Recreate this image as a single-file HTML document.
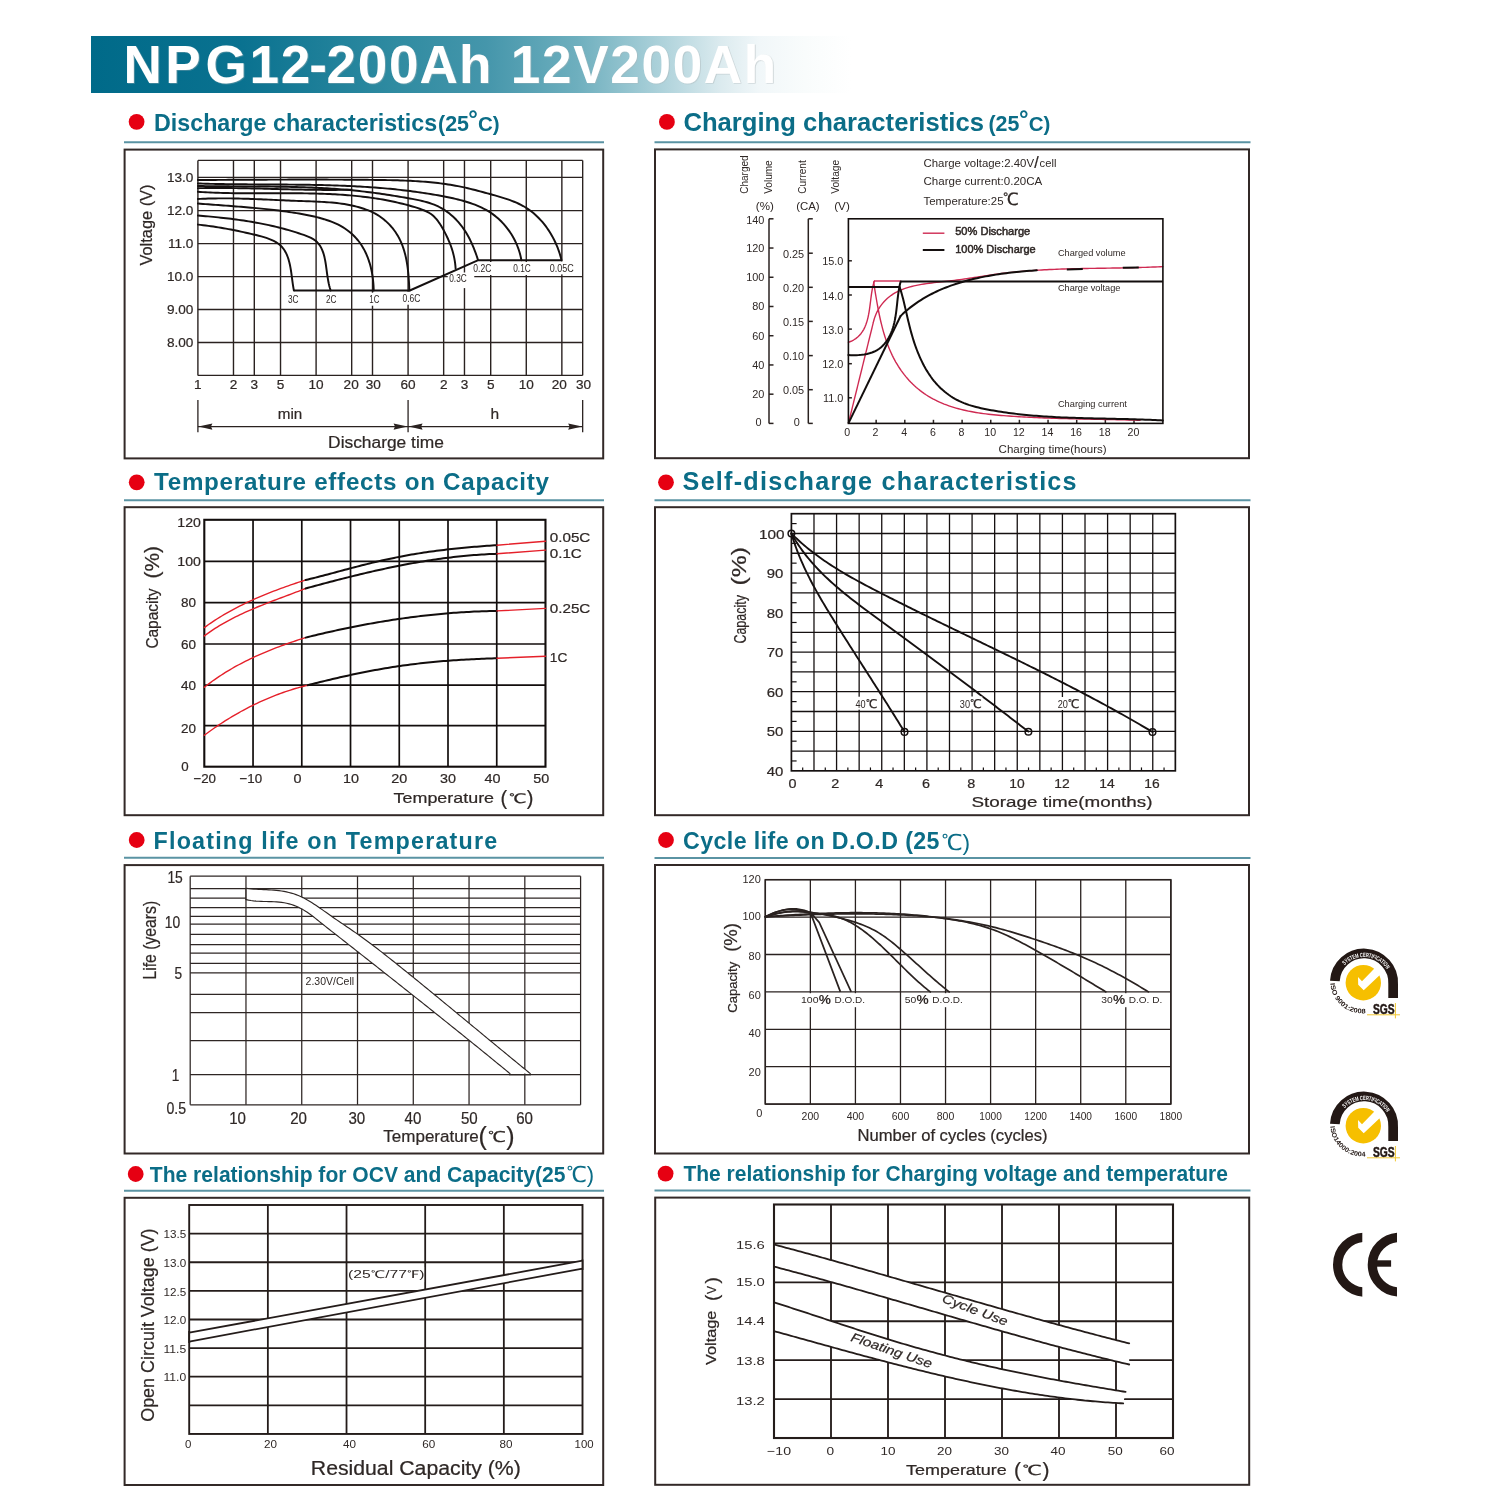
<!DOCTYPE html>
<html lang="en"><head><meta charset="utf-8"><title>NPG12-200Ah 12V200Ah</title>
<style>
html,body{margin:0;padding:0;background:#fff;}
body{width:1500px;height:1500px;overflow:hidden;font-family:'Liberation Sans',sans-serif;}
svg{display:block;}
text{white-space:pre;}
svg text.b{stroke:#2f2826;stroke-width:0.22px;}
svg text.bb{stroke:#2f2826;stroke-width:0.5px;}
</style></head><body>
<svg width="1500" height="1500" viewBox="0 0 1500 1500">
<defs>
<linearGradient id="bg" x1="0" y1="0" x2="1" y2="0">
<stop offset="0" stop-color="#006a89"/>
<stop offset="0.2" stop-color="#0a7290"/>
<stop offset="0.4" stop-color="#2f8ba1"/>
<stop offset="0.52" stop-color="#4596ab"/>
<stop offset="0.64" stop-color="#6eafbe"/>
<stop offset="0.76" stop-color="#b3d5dd"/>
<stop offset="0.83" stop-color="#dcebef"/>
<stop offset="0.88" stop-color="#f1f7f9"/>
<stop offset="0.94" stop-color="#f9fcfc"/>
<stop offset="1" stop-color="#ffffff"/>
</linearGradient>
<filter id="sh" x="-2%" y="-10%" width="104%" height="125%"><feDropShadow dx="0.8" dy="0.6" stdDeviation="0.25" flood-color="#aab4b7" flood-opacity="0.55"/></filter>
</defs>
<rect x="91" y="36" width="760" height="57" fill="url(#bg)"/>
<text x="123.6" y="82.8" font-size="53" fill="#ffffff" font-family="'Liberation Sans', sans-serif" font-weight="bold" letter-spacing="1.72" filter="url(#sh)">N<tspan dx="1.7">P</tspan><tspan dx="3">G</tspan><tspan dx="1.2">1</tspan>2<tspan dx="-2.8">-</tspan><tspan dx="-1.9">2</tspan>00<tspan dx="-0.6">A</tspan><tspan dx="-0.6">h</tspan><tspan dx="1.2"> </tspan>12V200Ah</text>
<circle cx="136.6" cy="121.8" r="7.9" fill="#e60012"/>
<text x="154" y="131.2" font-size="23.4" fill="#0b6d87" font-family="'Liberation Sans', sans-serif" font-weight="bold" textLength="283.2" lengthAdjust="spacingAndGlyphs">Discharge characteristics</text>
<text x="438" y="131.3" font-size="21.4" fill="#0b6d87" font-family="'Liberation Sans', sans-serif" font-weight="bold" textLength="31" lengthAdjust="spacingAndGlyphs">(25</text>
<text x="468.2" y="127.2" font-size="24" fill="#0b6d87" font-family="'Liberation Sans', sans-serif" font-weight="bold">°</text>
<text x="478" y="131.3" font-size="20.5" fill="#0b6d87" font-family="'Liberation Sans', sans-serif" font-weight="bold">C)</text>
<line x1="124" y1="142.2" x2="604" y2="142.2" stroke="#5a93a3" stroke-width="2" />
<circle cx="666.9" cy="121.9" r="7.9" fill="#e60012"/>
<text x="683.4" y="131" font-size="25" fill="#0b6d87" font-family="'Liberation Sans', sans-serif" font-weight="bold" textLength="300.5" lengthAdjust="spacingAndGlyphs">Charging characteristics</text>
<text x="988.4" y="131.3" font-size="21.4" fill="#0b6d87" font-family="'Liberation Sans', sans-serif" font-weight="bold">(25</text>
<text x="1018.9" y="127.2" font-size="24" fill="#0b6d87" font-family="'Liberation Sans', sans-serif" font-weight="bold">°</text>
<text x="1028.8" y="131.3" font-size="20.5" fill="#0b6d87" font-family="'Liberation Sans', sans-serif" font-weight="bold">C)</text>
<line x1="654.5" y1="142.2" x2="1250.5" y2="142.2" stroke="#5a93a3" stroke-width="2" />
<circle cx="136.7" cy="482.3" r="7.9" fill="#e60012"/>
<text x="154" y="490" font-size="24.2" fill="#0b6d87" font-family="'Liberation Sans', sans-serif" font-weight="bold" textLength="395" lengthAdjust="spacing">Temperature effects on Capacity</text>
<line x1="124" y1="500.3" x2="604" y2="500.3" stroke="#5a93a3" stroke-width="2" />
<circle cx="666" cy="482.3" r="7.9" fill="#e60012"/>
<text x="682.6" y="490" font-size="25.2" fill="#0b6d87" font-family="'Liberation Sans', sans-serif" font-weight="bold" textLength="394" lengthAdjust="spacing">Self-discharge characteristics</text>
<line x1="654.5" y1="500.3" x2="1250.5" y2="500.3" stroke="#5a93a3" stroke-width="2" />
<circle cx="136.7" cy="840" r="7.9" fill="#e60012"/>
<text x="153.6" y="849" font-size="23.3" fill="#0b6d87" font-family="'Liberation Sans', sans-serif" font-weight="bold" textLength="343.5" lengthAdjust="spacing">Floating life on Temperature</text>
<line x1="124" y1="857.7" x2="604" y2="857.7" stroke="#5a93a3" stroke-width="2" />
<circle cx="666" cy="840" r="7.9" fill="#e60012"/>
<text x="683" y="849.3" font-size="23.2" fill="#0b6d87" font-family="'Liberation Sans', sans-serif" font-weight="bold" textLength="256.5" lengthAdjust="spacing">Cycle life on D.O.D (25</text>
<text x="941.4" y="850" font-size="22" fill="#0b6d87" font-family="'Liberation Sans', 'WenQuanYi Zen Hei', 'Noto Sans CJK SC', sans-serif" textLength="28.6" lengthAdjust="spacingAndGlyphs">℃)</text>
<line x1="654.5" y1="857.9" x2="1250.5" y2="857.9" stroke="#5a93a3" stroke-width="2" />
<circle cx="135.7" cy="1174" r="7.9" fill="#e60012"/>
<text x="149.8" y="1181.7" font-size="21.2" fill="#0b6d87" font-family="'Liberation Sans', sans-serif" font-weight="bold" textLength="415.6" lengthAdjust="spacingAndGlyphs">The relationship for OCV and Capacity(25</text>
<text x="566.6" y="1182.4" font-size="22" fill="#0b6d87" font-family="'Liberation Sans', 'WenQuanYi Zen Hei', 'Noto Sans CJK SC', sans-serif" textLength="27.6" lengthAdjust="spacingAndGlyphs">℃)</text>
<line x1="124" y1="1190.7" x2="604" y2="1190.7" stroke="#5a93a3" stroke-width="2" />
<circle cx="665.6" cy="1173.6" r="7.9" fill="#e60012"/>
<text x="683.4" y="1181" font-size="21.6" fill="#0b6d87" font-family="'Liberation Sans', sans-serif" font-weight="bold" textLength="544.5" lengthAdjust="spacingAndGlyphs">The relationship for Charging voltage and temperature</text>
<line x1="654.5" y1="1190.5" x2="1250.5" y2="1190.5" stroke="#5a93a3" stroke-width="2" />
<rect x="124.6" y="149.6" width="478.6" height="308.8" fill="none" stroke="#322927" stroke-width="2"/>
<rect x="655" y="149.4" width="594" height="308.8" fill="none" stroke="#322927" stroke-width="2"/>
<rect x="124.6" y="507.2" width="478.6" height="308" fill="none" stroke="#322927" stroke-width="2"/>
<rect x="655" y="507.2" width="594" height="308" fill="none" stroke="#322927" stroke-width="2"/>
<rect x="124.6" y="865.1" width="478.6" height="288.4" fill="none" stroke="#322927" stroke-width="2"/>
<rect x="655" y="865" width="594" height="288.5" fill="none" stroke="#322927" stroke-width="2"/>
<rect x="124.6" y="1197.8" width="478.6" height="287.2" fill="none" stroke="#322927" stroke-width="2"/>
<rect x="655.2" y="1197.6" width="594" height="287.2" fill="none" stroke="#322927" stroke-width="2"/>
<g id="c1">
<line x1="197.9" y1="160.4" x2="197.9" y2="375.4" stroke="#2a2220" stroke-width="1.4" />
<line x1="233.48" y1="160.4" x2="233.48" y2="375.4" stroke="#2a2220" stroke-width="1.4" />
<line x1="254.3" y1="160.4" x2="254.3" y2="375.4" stroke="#2a2220" stroke-width="1.4" />
<line x1="280.52" y1="160.4" x2="280.52" y2="375.4" stroke="#2a2220" stroke-width="1.4" />
<line x1="316.1" y1="160.4" x2="316.1" y2="375.4" stroke="#2a2220" stroke-width="1.4" />
<line x1="351.68" y1="160.4" x2="351.68" y2="375.4" stroke="#2a2220" stroke-width="1.4" />
<line x1="372.5" y1="160.4" x2="372.5" y2="375.4" stroke="#2a2220" stroke-width="1.4" />
<line x1="408.08" y1="160.4" x2="408.08" y2="375.4" stroke="#2a2220" stroke-width="1.4" />
<line x1="443.66" y1="160.4" x2="443.66" y2="375.4" stroke="#2a2220" stroke-width="1.4" />
<line x1="464.47" y1="160.4" x2="464.47" y2="375.4" stroke="#2a2220" stroke-width="1.4" />
<line x1="490.7" y1="160.4" x2="490.7" y2="375.4" stroke="#2a2220" stroke-width="1.4" />
<line x1="526.28" y1="160.4" x2="526.28" y2="375.4" stroke="#2a2220" stroke-width="1.4" />
<line x1="561.86" y1="160.4" x2="561.86" y2="375.4" stroke="#2a2220" stroke-width="1.4" />
<line x1="582.67" y1="160.4" x2="582.67" y2="375.4" stroke="#2a2220" stroke-width="1.4" />
<line x1="197.9" y1="160.4" x2="582.67" y2="160.4" stroke="#2a2220" stroke-width="1.4" />
<line x1="197.9" y1="177.4" x2="582.67" y2="177.4" stroke="#2a2220" stroke-width="1.4" />
<line x1="197.9" y1="210.6" x2="582.67" y2="210.6" stroke="#2a2220" stroke-width="1.4" />
<line x1="197.9" y1="243.6" x2="582.67" y2="243.6" stroke="#2a2220" stroke-width="1.4" />
<line x1="197.9" y1="276.6" x2="582.67" y2="276.6" stroke="#2a2220" stroke-width="1.4" />
<line x1="197.9" y1="309.5" x2="582.67" y2="309.5" stroke="#2a2220" stroke-width="1.4" />
<line x1="197.9" y1="342.5" x2="582.67" y2="342.5" stroke="#2a2220" stroke-width="1.4" />
<line x1="197.9" y1="375.4" x2="582.67" y2="375.4" stroke="#2a2220" stroke-width="1.4" />
<rect x="286.45" y="293.2" width="13.5" height="13" fill="#fff"/>
<rect x="324.45" y="293.2" width="13.5" height="13" fill="#fff"/>
<rect x="367.8" y="292.7" width="13" height="13" fill="#fff"/>
<rect x="401" y="291.7" width="21" height="13" fill="#fff"/>
<rect x="447.75" y="272.5" width="26.5" height="15.6" fill="#fff"/>
<rect x="471.8" y="262" width="21" height="13" fill="#fff"/>
<rect x="511.75" y="262" width="20.5" height="13" fill="#fff"/>
<rect x="548.2" y="261.4" width="27" height="13" fill="#fff"/>
<path d="M197.9 224.6 L200.53 224.9 L203.13 225.21 L205.72 225.53 L208.28 225.87 L210.83 226.23 L213.37 226.59 L215.89 226.98 L218.41 227.37 L220.91 227.79 L223.41 228.21 L225.9 228.65 L228.39 229.11 L230.88 229.58 L233.37 230.06 L235.86 230.56 L238.35 231.07 L240.86 231.6 L243.37 232.14 L245.89 232.69 L248.42 233.26 L250.97 233.85 L253.54 234.44 L256.12 235.06 L258.71 235.7 L261.29 236.38 L263.85 237.11 L266.39 237.92 L268.88 238.81 L271.32 239.79 L273.67 240.89 L275.92 242.12 L278.03 243.48 L279.97 245 L281.71 246.69 L283.26 248.54 L284.63 250.53 L285.84 252.65 L286.89 254.89 L287.81 257.24 L288.61 259.67 L289.3 262.17 L289.9 264.74 L290.41 267.35 L290.87 269.99 L291.27 272.65 L291.64 275.3 L291.99 277.95 L292.33 280.57 L292.67 283.15 L293.04 285.68 L293.45 288.13 L293.9 290.5" fill="none" stroke="#151010" stroke-width="1.95" stroke-linecap="round" stroke-linejoin="round" />
<path d="M197.9 215.5 L200.46 215.71 L203.02 215.93 L205.58 216.16 L208.14 216.39 L210.7 216.63 L213.25 216.88 L215.8 217.13 L218.35 217.39 L220.9 217.66 L223.45 217.94 L225.99 218.23 L228.53 218.53 L231.07 218.84 L233.61 219.17 L236.14 219.5 L238.67 219.85 L241.2 220.21 L243.73 220.58 L246.25 220.97 L248.77 221.37 L251.29 221.79 L253.81 222.22 L256.32 222.67 L258.83 223.13 L261.34 223.61 L263.84 224.11 L266.34 224.63 L268.84 225.17 L271.33 225.72 L273.82 226.29 L276.31 226.89 L278.79 227.5 L281.28 228.14 L283.75 228.8 L286.23 229.48 L288.71 230.18 L291.19 230.91 L293.68 231.66 L296.18 232.44 L298.68 233.24 L301.2 234.07 L303.73 234.92 L306.23 235.83 L308.68 236.82 L311.03 237.91 L313.23 239.14 L315.26 240.52 L317.06 242.1 L318.65 243.86 L320.03 245.78 L321.22 247.86 L322.25 250.07 L323.12 252.4 L323.87 254.82 L324.51 257.33 L325.05 259.9 L325.52 262.51 L325.93 265.15 L326.3 267.81 L326.65 270.45 L327 273.08 L327.37 275.66 L327.76 278.21 L328.2 280.72 L328.69 283.2 L329.25 285.66 L329.88 288.09 L330.6 290.5" fill="none" stroke="#151010" stroke-width="1.95" stroke-linecap="round" stroke-linejoin="round" />
<path d="M197.9 203.5 L200.45 203.71 L203 203.92 L205.54 204.12 L208.09 204.32 L210.63 204.51 L213.18 204.7 L215.72 204.89 L218.26 205.08 L220.8 205.27 L223.34 205.46 L225.88 205.65 L228.41 205.84 L230.95 206.03 L233.48 206.22 L236.02 206.42 L238.55 206.61 L241.08 206.81 L243.61 207.02 L246.14 207.23 L248.67 207.44 L251.2 207.66 L253.73 207.89 L256.26 208.12 L258.79 208.36 L261.31 208.6 L263.84 208.86 L266.36 209.12 L268.89 209.4 L271.41 209.68 L273.93 209.97 L276.46 210.27 L278.98 210.59 L281.5 210.91 L284.02 211.25 L286.55 211.6 L289.07 211.97 L291.59 212.35 L294.11 212.74 L296.63 213.15 L299.15 213.57 L301.67 214.01 L304.19 214.47 L306.7 214.95 L309.21 215.46 L311.72 215.99 L314.22 216.55 L316.71 217.15 L319.19 217.79 L321.65 218.47 L324.11 219.19 L326.54 219.96 L328.96 220.78 L331.36 221.66 L333.72 222.6 L336.05 223.62 L338.34 224.71 L340.58 225.88 L342.76 227.15 L344.89 228.5 L346.96 229.93 L348.96 231.45 L350.89 233.05 L352.76 234.73 L354.55 236.49 L356.27 238.33 L357.9 240.25 L359.45 242.24 L360.92 244.3 L362.29 246.44 L363.58 248.64 L364.79 250.89 L365.91 253.2 L366.94 255.56 L367.89 257.96 L368.76 260.39 L369.55 262.85 L370.27 265.34 L370.91 267.85 L371.48 270.38 L371.98 272.91 L372.41 275.45 L372.78 277.99 L373.08 280.52 L373.32 283.05 L373.51 285.55 L373.63 288.04 L373.7 290.5" fill="none" stroke="#151010" stroke-width="1.95" stroke-linecap="round" stroke-linejoin="round" />
<path d="M197.9 199 L200.45 198.87 L203 198.76 L205.54 198.66 L208.08 198.57 L210.62 198.5 L213.15 198.45 L215.68 198.41 L218.21 198.38 L220.73 198.36 L223.26 198.35 L225.78 198.36 L228.3 198.38 L230.81 198.4 L233.33 198.44 L235.84 198.48 L238.36 198.54 L240.87 198.6 L243.38 198.67 L245.89 198.74 L248.4 198.82 L250.91 198.91 L253.42 199 L255.93 199.1 L258.44 199.2 L260.95 199.31 L263.46 199.42 L265.97 199.53 L268.48 199.64 L270.99 199.76 L273.51 199.87 L276.03 199.99 L278.54 200.1 L281.06 200.22 L283.59 200.33 L286.11 200.44 L288.64 200.55 L291.16 200.66 L293.7 200.76 L296.23 200.86 L298.77 200.96 L301.31 201.05 L303.85 201.13 L306.4 201.22 L308.95 201.3 L311.49 201.39 L314.04 201.49 L316.59 201.6 L319.13 201.71 L321.68 201.85 L324.22 201.99 L326.75 202.16 L329.28 202.35 L331.8 202.56 L334.32 202.8 L336.83 203.07 L339.34 203.37 L341.83 203.71 L344.31 204.08 L346.79 204.5 L349.25 204.95 L351.7 205.46 L354.14 206 L356.56 206.6 L358.97 207.25 L361.37 207.96 L363.74 208.72 L366.1 209.55 L368.44 210.45 L370.74 211.43 L373.01 212.49 L375.23 213.65 L377.41 214.91 L379.54 216.26 L381.6 217.71 L383.61 219.25 L385.55 220.89 L387.42 222.6 L389.22 224.4 L390.94 226.28 L392.58 228.22 L394.14 230.23 L395.61 232.3 L396.99 234.42 L398.27 236.59 L399.46 238.81 L400.56 241.07 L401.56 243.37 L402.48 245.71 L403.33 248.08 L404.09 250.47 L404.78 252.9 L405.41 255.35 L405.97 257.82 L406.47 260.31 L406.92 262.81 L407.32 265.33 L407.67 267.85 L407.97 270.38 L408.24 272.92 L408.48 275.45 L408.68 277.99 L408.86 280.51 L409.02 283.03 L409.16 285.54 L409.28 288.03 L409.4 290.5" fill="none" stroke="#151010" stroke-width="1.95" stroke-linecap="round" stroke-linejoin="round" />
<path d="M197.9 191.8 L200.41 191.97 L202.91 192.12 L205.43 192.26 L207.94 192.39 L210.46 192.51 L212.97 192.62 L215.49 192.72 L218.02 192.81 L220.54 192.89 L223.07 192.96 L225.6 193.03 L228.13 193.08 L230.66 193.13 L233.2 193.17 L235.73 193.21 L238.27 193.24 L240.81 193.26 L243.35 193.28 L245.89 193.29 L248.43 193.3 L250.98 193.31 L253.52 193.31 L256.07 193.31 L258.62 193.3 L261.17 193.3 L263.71 193.29 L266.26 193.28 L268.81 193.28 L271.36 193.27 L273.91 193.26 L276.46 193.25 L279.02 193.25 L281.57 193.24 L284.12 193.24 L286.67 193.24 L289.22 193.24 L291.77 193.25 L294.32 193.26 L296.87 193.27 L299.42 193.29 L301.97 193.32 L304.52 193.35 L307.07 193.39 L309.62 193.43 L312.16 193.48 L314.71 193.54 L317.25 193.6 L319.8 193.68 L322.34 193.76 L324.88 193.85 L327.42 193.95 L329.96 194.07 L332.5 194.19 L335.03 194.32 L337.56 194.47 L340.1 194.63 L342.63 194.8 L345.15 194.98 L347.68 195.18 L350.2 195.39 L352.73 195.61 L355.25 195.85 L357.76 196.1 L360.28 196.37 L362.79 196.66 L365.3 196.96 L367.81 197.28 L370.31 197.62 L372.81 197.97 L375.31 198.35 L377.81 198.74 L380.3 199.15 L382.79 199.58 L385.27 200.03 L387.76 200.5 L390.24 200.99 L392.71 201.51 L395.18 202.04 L397.65 202.6 L400.12 203.18 L402.58 203.78 L405.04 204.41 L407.49 205.06 L409.94 205.74 L412.38 206.44 L414.82 207.17 L417.26 207.92 L419.69 208.71 L422.08 209.56 L424.43 210.49 L426.71 211.53 L428.9 212.71 L430.98 214.05 L432.93 215.58 L434.75 217.3 L436.45 219.19 L438.04 221.2 L439.54 223.33 L440.95 225.53 L442.29 227.79 L443.57 230.07 L444.8 232.36 L445.97 234.66 L447.09 236.96 L448.16 239.27 L449.16 241.59 L450.1 243.92 L450.98 246.27 L451.79 248.64 L452.54 251.03 L453.21 253.44 L453.8 255.88 L454.33 258.34 L454.77 260.83 L455.13 263.36 L455.41 265.91 L455.6 268.5" fill="none" stroke="#151010" stroke-width="1.95" stroke-linecap="round" stroke-linejoin="round" />
<path d="M197.9 188.2 L200.46 188.15 L203.01 188.11 L205.57 188.07 L208.12 188.04 L210.68 188.02 L213.24 188.01 L215.79 188 L218.35 188 L220.9 188 L223.46 188.01 L226.01 188.03 L228.57 188.05 L231.13 188.07 L233.68 188.1 L236.24 188.14 L238.79 188.18 L241.35 188.22 L243.9 188.26 L246.46 188.31 L249.01 188.36 L251.57 188.42 L254.12 188.47 L256.68 188.53 L259.23 188.59 L261.79 188.65 L264.34 188.72 L266.9 188.78 L269.45 188.85 L272.01 188.91 L274.56 188.98 L277.12 189.04 L279.67 189.11 L282.23 189.17 L284.78 189.24 L287.34 189.3 L289.89 189.36 L292.45 189.42 L295 189.48 L297.56 189.53 L300.11 189.59 L302.66 189.64 L305.22 189.68 L307.77 189.73 L310.33 189.77 L312.88 189.8 L315.44 189.84 L317.99 189.86 L320.55 189.89 L323.1 189.91 L325.66 189.92 L328.21 189.93 L330.76 189.93 L333.32 189.92 L335.87 189.91 L338.43 189.9 L340.98 189.87 L343.54 189.84 L346.09 189.8 L348.65 189.75 L351.2 189.7" fill="none" stroke="#151010" stroke-width="1.95" stroke-linecap="round" stroke-linejoin="round" />
<path d="M197.9 186 L200.42 186.05 L202.94 186.09 L205.46 186.12 L207.98 186.16 L210.51 186.19 L213.03 186.22 L215.55 186.24 L218.08 186.27 L220.61 186.29 L223.13 186.31 L225.66 186.32 L228.19 186.34 L230.72 186.35 L233.24 186.36 L235.77 186.38 L238.3 186.39 L240.83 186.4 L243.36 186.41 L245.9 186.42 L248.43 186.44 L250.96 186.45 L253.49 186.46 L256.02 186.48 L258.55 186.49 L261.09 186.51 L263.62 186.53 L266.15 186.55 L268.68 186.58 L271.21 186.6 L273.74 186.63 L276.28 186.67 L278.81 186.7 L281.34 186.74 L283.87 186.78 L286.4 186.83 L288.93 186.88 L291.46 186.94 L293.99 187 L296.52 187.07 L299.04 187.14 L301.57 187.22 L304.1 187.3 L306.63 187.39 L309.15 187.48 L311.68 187.58 L314.2 187.69 L316.72 187.81 L319.24 187.93 L321.77 188.06 L324.29 188.2 L326.81 188.34 L329.32 188.5 L331.84 188.66 L334.36 188.83 L336.87 189.01 L339.39 189.2 L341.9 189.4 L344.41 189.61 L346.92 189.82 L349.43 190.05 L351.94 190.29 L354.44 190.54 L356.95 190.8 L359.45 191.07 L361.95 191.35 L364.46 191.64 L366.96 191.94 L369.46 192.25 L371.96 192.57 L374.47 192.89 L376.97 193.23 L379.47 193.58 L381.97 193.93 L384.48 194.3 L386.98 194.67 L389.49 195.06 L392 195.45 L394.51 195.85 L397.02 196.26 L399.54 196.68 L402.05 197.1 L404.57 197.53 L407.1 197.97 L409.62 198.42 L412.15 198.88 L414.67 199.36 L417.18 199.87 L419.68 200.4 L422.17 200.98 L424.63 201.6 L427.07 202.28 L429.48 203.02 L431.85 203.83 L434.18 204.71 L436.47 205.68 L438.72 206.74 L440.91 207.89 L443.05 209.12 L445.14 210.44 L447.17 211.85 L449.15 213.34 L451.08 214.9 L452.95 216.54 L454.76 218.25 L456.51 220.04 L458.21 221.89 L459.84 223.81 L461.41 225.79 L462.92 227.83 L464.37 229.92 L465.75 232.07 L467.08 234.27 L468.34 236.52 L469.54 238.8 L470.68 241.11 L471.77 243.44 L472.81 245.8 L473.79 248.17 L474.73 250.54 L475.61 252.92 L476.45 255.29 L477.25 257.65 L478 260" fill="none" stroke="#151010" stroke-width="1.95" stroke-linecap="round" stroke-linejoin="round" />
<path d="M197.9 183.5 L200.43 183.58 L202.97 183.65 L205.5 183.72 L208.04 183.79 L210.57 183.85 L213.11 183.9 L215.64 183.95 L218.17 184 L220.71 184.05 L223.24 184.09 L225.78 184.13 L228.31 184.16 L230.84 184.19 L233.38 184.22 L235.91 184.25 L238.44 184.28 L240.98 184.3 L243.51 184.32 L246.04 184.34 L248.58 184.36 L251.11 184.37 L253.64 184.39 L256.18 184.4 L258.71 184.42 L261.24 184.43 L263.77 184.44 L266.31 184.46 L268.84 184.47 L271.37 184.48 L273.9 184.5 L276.43 184.51 L278.96 184.53 L281.5 184.54 L284.03 184.56 L286.56 184.58 L289.09 184.6 L291.62 184.62 L294.15 184.64 L296.68 184.67 L299.21 184.7 L301.74 184.73 L304.27 184.76 L306.8 184.8 L309.33 184.83 L311.86 184.88 L314.39 184.92 L316.92 184.97 L319.45 185.03 L321.97 185.08 L324.5 185.14 L327.03 185.21 L329.56 185.28 L332.09 185.36 L334.61 185.44 L337.14 185.52 L339.67 185.61 L342.19 185.71 L344.72 185.81 L347.25 185.92 L349.77 186.03 L352.3 186.15 L354.82 186.28 L357.35 186.41 L359.87 186.55 L362.4 186.7 L364.92 186.85 L367.44 187.02 L369.97 187.19 L372.49 187.36 L375.01 187.55 L377.54 187.74 L380.06 187.94 L382.58 188.15 L385.1 188.37 L387.62 188.6 L390.14 188.84 L392.67 189.08 L395.19 189.34 L397.71 189.61 L400.23 189.88 L402.74 190.17 L405.26 190.46 L407.78 190.77 L410.3 191.09 L412.82 191.42 L415.34 191.75 L417.85 192.1 L420.37 192.47 L422.89 192.84 L425.4 193.22 L427.92 193.62 L430.43 194.03 L432.95 194.45 L435.46 194.89 L437.98 195.33 L440.49 195.79 L443 196.26 L445.52 196.75 L448.03 197.25 L450.53 197.77 L453.03 198.31 L455.53 198.88 L458.01 199.47 L460.48 200.1 L462.93 200.76 L465.36 201.46 L467.78 202.2 L470.17 202.98 L472.54 203.81 L474.88 204.68 L477.19 205.62 L479.47 206.61 L481.72 207.65 L483.93 208.76 L486.11 209.94 L488.24 211.19 L490.33 212.51 L492.38 213.9 L494.38 215.37 L496.33 216.93 L498.22 218.56 L500.07 220.27 L501.85 222.05 L503.58 223.9 L505.25 225.81 L506.85 227.79 L508.39 229.83 L509.87 231.93 L511.27 234.07 L512.6 236.27 L513.85 238.51 L515.03 240.79 L516.13 243.12 L517.14 245.48 L518.07 247.87 L518.92 250.29 L519.68 252.74 L520.35 255.21 L520.92 257.7 L521.4 260.2" fill="none" stroke="#151010" stroke-width="1.95" stroke-linecap="round" stroke-linejoin="round" />
<path d="M197.9 180 L200.43 179.99 L202.96 179.97 L205.5 179.96 L208.03 179.95 L210.56 179.94 L213.09 179.92 L215.62 179.91 L218.15 179.9 L220.68 179.88 L223.21 179.87 L225.74 179.86 L228.27 179.84 L230.8 179.83 L233.33 179.82 L235.86 179.8 L238.39 179.79 L240.92 179.78 L243.45 179.76 L245.97 179.75 L248.5 179.74 L251.03 179.73 L253.56 179.72 L256.09 179.7 L258.61 179.69 L261.14 179.68 L263.67 179.67 L266.2 179.66 L268.72 179.65 L271.25 179.64 L273.78 179.63 L276.3 179.63 L278.83 179.62 L281.36 179.61 L283.89 179.6 L286.41 179.6 L288.94 179.59 L291.47 179.59 L293.99 179.58 L296.52 179.58 L299.05 179.58 L301.58 179.57 L304.1 179.57 L306.63 179.57 L309.16 179.57 L311.69 179.57 L314.21 179.57 L316.74 179.58 L319.27 179.58 L321.8 179.58 L324.33 179.59 L326.85 179.59 L329.38 179.6 L331.91 179.61 L334.44 179.62 L336.97 179.63 L339.5 179.64 L342.03 179.65 L344.56 179.66 L347.09 179.68 L349.62 179.69 L352.15 179.71 L354.68 179.73 L357.21 179.75 L359.74 179.77 L362.27 179.79 L364.81 179.81 L367.34 179.84 L369.87 179.86 L372.4 179.89 L374.94 179.92 L377.47 179.95 L380 179.98 L382.54 180.02 L385.07 180.06 L387.61 180.1 L390.14 180.15 L392.67 180.21 L395.2 180.27 L397.73 180.34 L400.27 180.42 L402.8 180.51 L405.32 180.61 L407.85 180.72 L410.38 180.83 L412.9 180.97 L415.43 181.11 L417.95 181.27 L420.47 181.44 L422.98 181.62 L425.5 181.82 L428.01 182.04 L430.53 182.27 L433.03 182.52 L435.54 182.79 L438.05 183.08 L440.55 183.38 L443.05 183.71 L445.54 184.06 L448.03 184.43 L450.52 184.82 L453.01 185.23 L455.49 185.67 L457.97 186.13 L460.45 186.62 L462.92 187.13 L465.38 187.67 L467.85 188.24 L470.31 188.83 L472.77 189.43 L475.23 190.06 L477.68 190.7 L480.14 191.36 L482.59 192.02 L485.04 192.69 L487.5 193.37 L489.96 194.05 L492.42 194.74 L494.88 195.42 L497.33 196.12 L499.78 196.83 L502.22 197.56 L504.64 198.32 L507.05 199.11 L509.44 199.94 L511.8 200.81 L514.14 201.74 L516.44 202.71 L518.71 203.75 L520.95 204.85 L523.14 206.02 L525.29 207.28 L527.39 208.61 L529.44 210.03 L531.44 211.52 L533.39 213.09 L535.29 214.74 L537.13 216.45 L538.92 218.23 L540.66 220.07 L542.34 221.97 L543.96 223.93 L545.53 225.94 L547.03 227.99 L548.48 230.1 L549.87 232.25 L551.2 234.44 L552.46 236.66 L553.67 238.92 L554.8 241.21 L555.88 243.52 L556.88 245.86 L557.83 248.22 L558.7 250.59 L559.5 252.98 L560.24 255.38 L560.91 257.79 L561.5 260.2" fill="none" stroke="#151010" stroke-width="1.95" stroke-linecap="round" stroke-linejoin="round" />
<path d="M293.9 290.5 L409.8 290.5 L478.3 260.2 L561.5 260.2" fill="none" stroke="#151010" stroke-width="1.95" stroke-linejoin="round" />
<text x="293.2" y="303.49" font-size="10.6" fill="#2f2826" font-family="'Liberation Sans', sans-serif" text-anchor="middle" textLength="10.5" lengthAdjust="spacingAndGlyphs">3C</text>
<text x="331.2" y="303.49" font-size="10.6" fill="#2f2826" font-family="'Liberation Sans', sans-serif" text-anchor="middle" textLength="10.5" lengthAdjust="spacingAndGlyphs">2C</text>
<text x="374.3" y="302.99" font-size="10.6" fill="#2f2826" font-family="'Liberation Sans', sans-serif" text-anchor="middle" textLength="10" lengthAdjust="spacingAndGlyphs">1C</text>
<text x="411.5" y="301.99" font-size="10.6" fill="#2f2826" font-family="'Liberation Sans', sans-serif" text-anchor="middle" textLength="18" lengthAdjust="spacingAndGlyphs">0.6C</text>
<text x="458" y="281.79" font-size="10.6" fill="#2f2826" font-family="'Liberation Sans', sans-serif" text-anchor="middle" textLength="17.5" lengthAdjust="spacingAndGlyphs">0.3C</text>
<text x="482.3" y="272.29" font-size="10.6" fill="#2f2826" font-family="'Liberation Sans', sans-serif" text-anchor="middle" textLength="18" lengthAdjust="spacingAndGlyphs">0.2C</text>
<text x="522" y="272.29" font-size="10.6" fill="#2f2826" font-family="'Liberation Sans', sans-serif" text-anchor="middle" textLength="17.5" lengthAdjust="spacingAndGlyphs">0.1C</text>
<text x="561.7" y="271.69" font-size="10.6" fill="#2f2826" font-family="'Liberation Sans', sans-serif" text-anchor="middle" textLength="24" lengthAdjust="spacingAndGlyphs">0.05C</text>
<text x="193.4" y="181.67" font-size="13.6" fill="#2f2826" font-family="'Liberation Sans', sans-serif" text-anchor="end" class="b">13.0</text>
<text x="193.4" y="214.87" font-size="13.6" fill="#2f2826" font-family="'Liberation Sans', sans-serif" text-anchor="end" class="b">12.0</text>
<text x="193.4" y="247.87" font-size="13.6" fill="#2f2826" font-family="'Liberation Sans', sans-serif" text-anchor="end" class="b">11.0</text>
<text x="193.4" y="280.87" font-size="13.6" fill="#2f2826" font-family="'Liberation Sans', sans-serif" text-anchor="end" class="b">10.0</text>
<text x="193.4" y="313.77" font-size="13.6" fill="#2f2826" font-family="'Liberation Sans', sans-serif" text-anchor="end" class="b">9.00</text>
<text x="193.4" y="346.77" font-size="13.6" fill="#2f2826" font-family="'Liberation Sans', sans-serif" text-anchor="end" class="b">8.00</text>
<text x="197.9" y="389.47" font-size="13.6" fill="#2f2826" font-family="'Liberation Sans', sans-serif" text-anchor="middle" class="b">1</text>
<text x="233.48" y="389.47" font-size="13.6" fill="#2f2826" font-family="'Liberation Sans', sans-serif" text-anchor="middle" class="b">2</text>
<text x="254.3" y="389.47" font-size="13.6" fill="#2f2826" font-family="'Liberation Sans', sans-serif" text-anchor="middle" class="b">3</text>
<text x="280.52" y="389.47" font-size="13.6" fill="#2f2826" font-family="'Liberation Sans', sans-serif" text-anchor="middle" class="b">5</text>
<text x="316.1" y="389.47" font-size="13.6" fill="#2f2826" font-family="'Liberation Sans', sans-serif" text-anchor="middle" class="b">10</text>
<text x="351.18" y="389.47" font-size="13.6" fill="#2f2826" font-family="'Liberation Sans', sans-serif" text-anchor="middle" class="b">20</text>
<text x="373.3" y="389.47" font-size="13.6" fill="#2f2826" font-family="'Liberation Sans', sans-serif" text-anchor="middle" class="b">30</text>
<text x="408.08" y="389.47" font-size="13.6" fill="#2f2826" font-family="'Liberation Sans', sans-serif" text-anchor="middle" class="b">60</text>
<text x="443.66" y="389.47" font-size="13.6" fill="#2f2826" font-family="'Liberation Sans', sans-serif" text-anchor="middle" class="b">2</text>
<text x="464.47" y="389.47" font-size="13.6" fill="#2f2826" font-family="'Liberation Sans', sans-serif" text-anchor="middle" class="b">3</text>
<text x="490.7" y="389.47" font-size="13.6" fill="#2f2826" font-family="'Liberation Sans', sans-serif" text-anchor="middle" class="b">5</text>
<text x="526.28" y="389.47" font-size="13.6" fill="#2f2826" font-family="'Liberation Sans', sans-serif" text-anchor="middle" class="b">10</text>
<text x="559.36" y="389.47" font-size="13.6" fill="#2f2826" font-family="'Liberation Sans', sans-serif" text-anchor="middle" class="b">20</text>
<text x="583.47" y="389.47" font-size="13.6" fill="#2f2826" font-family="'Liberation Sans', sans-serif" text-anchor="middle" class="b">30</text>
<text transform="translate(151.8 225) rotate(-90)" class="b" text-anchor="middle" font-size="16.2" fill="#2f2826" font-family="'Liberation Sans', sans-serif" textLength="81" lengthAdjust="spacingAndGlyphs">Voltage (V)</text>
<line x1="197.9" y1="400" x2="197.9" y2="432.2" stroke="#2a2220" stroke-width="1.3" />
<line x1="408.08" y1="400" x2="408.08" y2="432.2" stroke="#2a2220" stroke-width="1.3" />
<line x1="582.67" y1="400" x2="582.67" y2="432.2" stroke="#2a2220" stroke-width="1.3" />
<line x1="197.9" y1="426.6" x2="582.67" y2="426.6" stroke="#2a2220" stroke-width="1.3" />
<path d="M198.4 426.6 L212.4 423.5 L211 426.6 L212.4 429.7 Z" fill="#2a2220"/>
<path d="M407.58 426.6 L393.58 423.5 L394.98 426.6 L393.58 429.7 Z" fill="#2a2220"/>
<path d="M408.58 426.6 L422.58 423.5 L421.18 426.6 L422.58 429.7 Z" fill="#2a2220"/>
<path d="M582.17 426.6 L568.17 423.5 L569.57 426.6 L568.17 429.7 Z" fill="#2a2220"/>
<text x="290" y="419.15" font-size="15.5" fill="#2f2826" font-family="'Liberation Sans', sans-serif" text-anchor="middle" textLength="24.5" lengthAdjust="spacingAndGlyphs" class="b">min</text>
<text x="494.9" y="418.55" font-size="15.5" fill="#2f2826" font-family="'Liberation Sans', sans-serif" text-anchor="middle" class="b">h</text>
<text x="386" y="447.98" font-size="15.6" fill="#2f2826" font-family="'Liberation Sans', sans-serif" text-anchor="middle" textLength="115.8" lengthAdjust="spacingAndGlyphs" class="b">Discharge time</text>
</g>
<g id="c2">
<line x1="769" y1="218.8" x2="769" y2="423.4" stroke="#2a2220" stroke-width="1.5" />
<line x1="769" y1="218.8" x2="773.5" y2="218.8" stroke="#2a2220" stroke-width="1.5" />
<text x="764.3" y="223.9" font-size="10.9" fill="#2f2826" font-family="'Liberation Sans', sans-serif" text-anchor="end">140</text>
<line x1="769" y1="248.03" x2="773.5" y2="248.03" stroke="#2a2220" stroke-width="1.5" />
<text x="764.3" y="251.93" font-size="10.9" fill="#2f2826" font-family="'Liberation Sans', sans-serif" text-anchor="end">120</text>
<line x1="769" y1="277.26" x2="773.5" y2="277.26" stroke="#2a2220" stroke-width="1.5" />
<text x="764.3" y="281.16" font-size="10.9" fill="#2f2826" font-family="'Liberation Sans', sans-serif" text-anchor="end">100</text>
<line x1="769" y1="306.49" x2="773.5" y2="306.49" stroke="#2a2220" stroke-width="1.5" />
<text x="764.3" y="310.39" font-size="10.9" fill="#2f2826" font-family="'Liberation Sans', sans-serif" text-anchor="end">80</text>
<line x1="769" y1="335.72" x2="773.5" y2="335.72" stroke="#2a2220" stroke-width="1.5" />
<text x="764.3" y="339.62" font-size="10.9" fill="#2f2826" font-family="'Liberation Sans', sans-serif" text-anchor="end">60</text>
<line x1="769" y1="364.95" x2="773.5" y2="364.95" stroke="#2a2220" stroke-width="1.5" />
<text x="764.3" y="368.85" font-size="10.9" fill="#2f2826" font-family="'Liberation Sans', sans-serif" text-anchor="end">40</text>
<line x1="769" y1="394.18" x2="773.5" y2="394.18" stroke="#2a2220" stroke-width="1.5" />
<text x="764.3" y="398.08" font-size="10.9" fill="#2f2826" font-family="'Liberation Sans', sans-serif" text-anchor="end">20</text>
<line x1="769" y1="423.41" x2="773.5" y2="423.41" stroke="#2a2220" stroke-width="1.5" />
<text x="761.5" y="426.31" font-size="10.9" fill="#2f2826" font-family="'Liberation Sans', sans-serif" text-anchor="end">0</text>
<line x1="808.3" y1="218.8" x2="808.3" y2="423.4" stroke="#2a2220" stroke-width="1.5" />
<line x1="808.3" y1="218.8" x2="812.8" y2="218.8" stroke="#2a2220" stroke-width="1.5" />
<line x1="808.3" y1="253.2" x2="812.8" y2="253.2" stroke="#2a2220" stroke-width="1.5" />
<text x="804.2" y="257.7" font-size="10.9" fill="#2f2826" font-family="'Liberation Sans', sans-serif" text-anchor="end">0.25</text>
<line x1="808.3" y1="287.3" x2="812.8" y2="287.3" stroke="#2a2220" stroke-width="1.5" />
<text x="804.2" y="291.8" font-size="10.9" fill="#2f2826" font-family="'Liberation Sans', sans-serif" text-anchor="end">0.20</text>
<line x1="808.3" y1="321.4" x2="812.8" y2="321.4" stroke="#2a2220" stroke-width="1.5" />
<text x="804.2" y="325.9" font-size="10.9" fill="#2f2826" font-family="'Liberation Sans', sans-serif" text-anchor="end">0.15</text>
<line x1="808.3" y1="355.6" x2="812.8" y2="355.6" stroke="#2a2220" stroke-width="1.5" />
<text x="804.2" y="360.1" font-size="10.9" fill="#2f2826" font-family="'Liberation Sans', sans-serif" text-anchor="end">0.10</text>
<line x1="808.3" y1="389.7" x2="812.8" y2="389.7" stroke="#2a2220" stroke-width="1.5" />
<text x="804.2" y="394.2" font-size="10.9" fill="#2f2826" font-family="'Liberation Sans', sans-serif" text-anchor="end">0.05</text>
<line x1="808.3" y1="423.4" x2="812.8" y2="423.4" stroke="#2a2220" stroke-width="1.5" />
<text x="796.8" y="426.3" font-size="10.9" fill="#2f2826" font-family="'Liberation Sans', sans-serif" text-anchor="middle">0</text>
<line x1="848.4" y1="260.8" x2="851.9" y2="260.8" stroke="#2a2220" stroke-width="1.5" />
<text x="843.4" y="265.3" font-size="10.9" fill="#2f2826" font-family="'Liberation Sans', sans-serif" text-anchor="end">15.0</text>
<line x1="848.4" y1="295" x2="851.9" y2="295" stroke="#2a2220" stroke-width="1.5" />
<text x="843.4" y="299.5" font-size="10.9" fill="#2f2826" font-family="'Liberation Sans', sans-serif" text-anchor="end">14.0</text>
<line x1="848.4" y1="329.1" x2="851.9" y2="329.1" stroke="#2a2220" stroke-width="1.5" />
<text x="843.4" y="333.6" font-size="10.9" fill="#2f2826" font-family="'Liberation Sans', sans-serif" text-anchor="end">13.0</text>
<line x1="848.4" y1="363.7" x2="851.9" y2="363.7" stroke="#2a2220" stroke-width="1.5" />
<text x="843.4" y="368.2" font-size="10.9" fill="#2f2826" font-family="'Liberation Sans', sans-serif" text-anchor="end">12.0</text>
<line x1="848.4" y1="397.8" x2="851.9" y2="397.8" stroke="#2a2220" stroke-width="1.5" />
<text x="843.4" y="402.3" font-size="10.9" fill="#2f2826" font-family="'Liberation Sans', sans-serif" text-anchor="end">11.0</text>
<text transform="translate(748.2 193.8) rotate(-90)" font-size="10.2" fill="#2f2826" font-family="'Liberation Sans', sans-serif" textLength="38.5" lengthAdjust="spacingAndGlyphs">Charged</text>
<text transform="translate(772.2 193.8) rotate(-90)" font-size="10.2" fill="#2f2826" font-family="'Liberation Sans', sans-serif" textLength="33.5" lengthAdjust="spacingAndGlyphs">Volume</text>
<text transform="translate(805.6 193.8) rotate(-90)" font-size="10.2" fill="#2f2826" font-family="'Liberation Sans', sans-serif" textLength="33.5" lengthAdjust="spacingAndGlyphs">Current</text>
<text transform="translate(839.4 193.8) rotate(-90)" font-size="10.2" fill="#2f2826" font-family="'Liberation Sans', sans-serif" textLength="34" lengthAdjust="spacingAndGlyphs">Voltage</text>
<text x="764.8" y="209.99" font-size="10.6" fill="#2f2826" font-family="'Liberation Sans', sans-serif" text-anchor="middle" textLength="18" lengthAdjust="spacingAndGlyphs">(%)</text>
<text x="807.9" y="209.99" font-size="10.6" fill="#2f2826" font-family="'Liberation Sans', sans-serif" text-anchor="middle" textLength="23.5" lengthAdjust="spacingAndGlyphs">(CA)</text>
<text x="842" y="209.99" font-size="10.6" fill="#2f2826" font-family="'Liberation Sans', sans-serif" text-anchor="middle" textLength="15.5" lengthAdjust="spacingAndGlyphs">(V)</text>
<text x="847.3" y="435.99" font-size="10.6" fill="#2f2826" font-family="'Liberation Sans', sans-serif" text-anchor="middle">0</text>
<line x1="876.15" y1="423.4" x2="876.15" y2="419.8" stroke="#2a2220" stroke-width="1.5" />
<text x="875.55" y="435.99" font-size="10.6" fill="#2f2826" font-family="'Liberation Sans', sans-serif" text-anchor="middle">2</text>
<line x1="904.8" y1="423.4" x2="904.8" y2="419.8" stroke="#2a2220" stroke-width="1.5" />
<text x="904.2" y="435.99" font-size="10.6" fill="#2f2826" font-family="'Liberation Sans', sans-serif" text-anchor="middle">4</text>
<line x1="933.45" y1="423.4" x2="933.45" y2="419.8" stroke="#2a2220" stroke-width="1.5" />
<text x="932.85" y="435.99" font-size="10.6" fill="#2f2826" font-family="'Liberation Sans', sans-serif" text-anchor="middle">6</text>
<line x1="962.1" y1="423.4" x2="962.1" y2="419.8" stroke="#2a2220" stroke-width="1.5" />
<text x="961.5" y="435.99" font-size="10.6" fill="#2f2826" font-family="'Liberation Sans', sans-serif" text-anchor="middle">8</text>
<line x1="990.75" y1="423.4" x2="990.75" y2="419.8" stroke="#2a2220" stroke-width="1.5" />
<text x="990.15" y="435.99" font-size="10.6" fill="#2f2826" font-family="'Liberation Sans', sans-serif" text-anchor="middle">10</text>
<line x1="1019.4" y1="423.4" x2="1019.4" y2="419.8" stroke="#2a2220" stroke-width="1.5" />
<text x="1018.8" y="435.99" font-size="10.6" fill="#2f2826" font-family="'Liberation Sans', sans-serif" text-anchor="middle">12</text>
<line x1="1048.05" y1="423.4" x2="1048.05" y2="419.8" stroke="#2a2220" stroke-width="1.5" />
<text x="1047.45" y="435.99" font-size="10.6" fill="#2f2826" font-family="'Liberation Sans', sans-serif" text-anchor="middle">14</text>
<line x1="1076.7" y1="423.4" x2="1076.7" y2="419.8" stroke="#2a2220" stroke-width="1.5" />
<text x="1076.1" y="435.99" font-size="10.6" fill="#2f2826" font-family="'Liberation Sans', sans-serif" text-anchor="middle">16</text>
<line x1="1105.35" y1="423.4" x2="1105.35" y2="419.8" stroke="#2a2220" stroke-width="1.5" />
<text x="1104.75" y="435.99" font-size="10.6" fill="#2f2826" font-family="'Liberation Sans', sans-serif" text-anchor="middle">18</text>
<line x1="1134" y1="423.4" x2="1134" y2="419.8" stroke="#2a2220" stroke-width="1.5" />
<text x="1133.4" y="435.99" font-size="10.6" fill="#2f2826" font-family="'Liberation Sans', sans-serif" text-anchor="middle">20</text>
<text x="1052.6" y="453.38" font-size="11.4" fill="#2f2826" font-family="'Liberation Sans', sans-serif" text-anchor="middle" textLength="108" lengthAdjust="spacingAndGlyphs">Charging time(hours)</text>
<text x="923.5" y="167" font-size="11.6" fill="#2f2826" font-family="'Liberation Sans', sans-serif" textLength="110.5" lengthAdjust="spacingAndGlyphs">Charge voltage:2.40V</text>
<text x="1034.2" y="167.6" font-size="16" fill="#2f2826" font-family="'Liberation Sans', sans-serif" class="b">/</text>
<text x="1039.6" y="167" font-size="11.6" fill="#2f2826" font-family="'Liberation Sans', sans-serif" textLength="16.8" lengthAdjust="spacingAndGlyphs">cell</text>
<text x="923.5" y="184.5" font-size="11.6" fill="#2f2826" font-family="'Liberation Sans', sans-serif" textLength="118.8" lengthAdjust="spacingAndGlyphs">Charge current:0.20CA</text>
<text x="923.5" y="204.6" font-size="11.6" fill="#2f2826" font-family="'Liberation Sans', sans-serif" textLength="80" lengthAdjust="spacingAndGlyphs">Temperature:25</text>
<text x="1003" y="204.8" font-size="17" fill="#2f2826" font-family="'Liberation Sans', 'WenQuanYi Zen Hei', 'Noto Sans CJK SC', sans-serif" class="b">℃</text>
<line x1="922.8" y1="233.2" x2="944.4" y2="233.2" stroke="#cf2a52" stroke-width="1.4" />
<line x1="922.8" y1="250" x2="944.4" y2="250" stroke="#151010" stroke-width="2" />
<text x="955.2" y="235.4" font-size="10.9" fill="#2f2826" font-family="'Liberation Sans', sans-serif" textLength="75" lengthAdjust="spacingAndGlyphs" class="bb">50% Discharge</text>
<text x="955.2" y="252.7" font-size="10.9" fill="#2f2826" font-family="'Liberation Sans', sans-serif" textLength="80.5" lengthAdjust="spacingAndGlyphs" class="bb">100% Discharge</text>
<text x="1057.9" y="256.29" font-size="9.2" fill="#2f2826" font-family="'Liberation Sans', sans-serif" textLength="67.7" lengthAdjust="spacingAndGlyphs">Charged volume</text>
<text x="1057.9" y="291.09" font-size="9.2" fill="#2f2826" font-family="'Liberation Sans', sans-serif" textLength="62.5" lengthAdjust="spacingAndGlyphs">Charge voltage</text>
<text x="1057.9" y="407.49" font-size="9.2" fill="#2f2826" font-family="'Liberation Sans', sans-serif" textLength="69" lengthAdjust="spacingAndGlyphs">Charging current</text>
<path d="M873.6 282 L873.99 284.43 L874.39 286.88 L874.78 289.34 L875.18 291.8 L875.58 294.28 L875.99 296.76 L876.41 299.25 L876.84 301.75 L877.28 304.25 L877.74 306.75 L878.21 309.25 L878.7 311.75 L879.2 314.25 L879.73 316.75 L880.28 319.24 L880.85 321.73 L881.45 324.21 L882.07 326.69 L882.72 329.15 L883.4 331.61 L884.12 334.05 L884.87 336.49 L885.65 338.9 L886.47 341.31 L887.33 343.69 L888.23 346.06 L889.17 348.41 L890.16 350.74 L891.19 353.05 L892.26 355.33 L893.39 357.6 L894.57 359.83 L895.79 362.04 L897.07 364.22 L898.4 366.38 L899.79 368.49 L901.22 370.58 L902.71 372.63 L904.24 374.64 L905.83 376.61 L907.46 378.53 L909.14 380.41 L910.87 382.25 L912.65 384.03 L914.48 385.76 L916.35 387.44 L918.27 389.07 L920.24 390.64 L922.25 392.14 L924.3 393.59 L926.39 394.99 L928.52 396.32 L930.68 397.6 L932.87 398.82 L935.09 399.98 L937.33 401.08 L939.59 402.13 L941.88 403.13 L944.19 404.08 L946.53 404.97 L948.88 405.82 L951.25 406.62 L953.64 407.38 L956.05 408.1 L958.47 408.77 L960.91 409.4 L963.37 409.99 L965.83 410.55 L968.31 411.08 L970.8 411.56 L973.31 412.02 L975.82 412.45 L978.34 412.85 L980.87 413.22 L983.4 413.57 L985.94 413.89 L988.49 414.19 L991.04 414.48 L993.59 414.74 L996.14 414.99 L998.7 415.22 L1001.25 415.43 L1003.8 415.64 L1006.35 415.84 L1008.9 416.02 L1011.45 416.2 L1013.99 416.37 L1016.53 416.54 L1019.06 416.69 L1021.59 416.84 L1024.12 416.99 L1026.64 417.13 L1029.17 417.26 L1031.69 417.39 L1034.21 417.51 L1036.72 417.62 L1039.24 417.73 L1041.75 417.84 L1044.26 417.94 L1046.77 418.04 L1049.28 418.13 L1051.78 418.21 L1054.29 418.3 L1056.79 418.38 L1059.3 418.45 L1061.8 418.53 L1064.3 418.6 L1066.81 418.66 L1069.31 418.73 L1071.81 418.79 L1074.32 418.85 L1076.82 418.91 L1079.32 418.96 L1081.83 419.02 L1084.34 419.07 L1086.84 419.12 L1089.35 419.17 L1091.86 419.22 L1094.37 419.27 L1096.88 419.32 L1099.4 419.37 L1101.91 419.42 L1104.43 419.47 L1106.95 419.52 L1109.47 419.57 L1112 419.62 L1114.53 419.67 L1117.06 419.73 L1119.59 419.78 L1122.13 419.84 L1124.67 419.9 L1127.22 419.96 L1129.77 420.02 L1132.32 420.09 L1134.87 420.15 L1137.44 420.23 L1140 420.3" fill="none" stroke="#cf2a52" stroke-width="1.4" stroke-linecap="round" stroke-linejoin="round" />
<path d="M848.4 423.4 L873.4 322.1" fill="none" stroke="#cf2a52" stroke-width="1.4" stroke-linejoin="round" />
<path d="M873.4 322.1 L874.09 319.45 L874.92 316.89 L875.87 314.43 L876.94 312.07 L878.13 309.8 L879.44 307.64 L880.85 305.57 L882.37 303.6 L883.98 301.74 L885.68 299.97 L887.47 298.31 L889.35 296.75 L891.3 295.3 L893.32 293.94 L895.41 292.7 L897.57 291.55 L899.78 290.5 L902.04 289.53 L904.35 288.65 L906.71 287.85 L909.11 287.12 L911.53 286.46 L913.99 285.86 L916.48 285.32 L918.98 284.83 L921.5 284.38 L924.03 283.98 L926.56 283.61 L929.1 283.26 L931.64 282.95 L934.17 282.65 L936.71 282.36 L939.24 282.09 L941.77 281.82 L944.3 281.55 L946.82 281.28 L949.34 280.99 L951.85 280.69 L954.36 280.38 L956.87 280.06 L959.37 279.72 L961.87 279.37 L964.37 279.01 L966.86 278.65 L969.35 278.28 L971.84 277.9 L974.33 277.52 L976.82 277.14 L979.3 276.76 L981.79 276.38 L984.27 276 L986.75 275.62 L989.24 275.25 L991.72 274.89 L994.2 274.53 L996.69 274.18 L999.18 273.84 L1001.67 273.51 L1004.16 273.2 L1006.65 272.9 L1009.15 272.61 L1011.64 272.34 L1014.14 272.08 L1016.65 271.83 L1019.15 271.59 L1021.66 271.37 L1024.16 271.15 L1026.67 270.95 L1029.18 270.76 L1031.69 270.58 L1034.21 270.4 L1036.72 270.24 L1039.24 270.09 L1041.76 269.94 L1044.28 269.81 L1046.8 269.68 L1049.32 269.56 L1051.84 269.44 L1054.36 269.34 L1056.89 269.24 L1059.41 269.15 L1061.94 269.06 L1064.46 268.98 L1066.99 268.9 L1069.52 268.83 L1072.05 268.77 L1074.58 268.7 L1077.1 268.65 L1079.63 268.59 L1082.16 268.54 L1084.69 268.49 L1087.22 268.45 L1089.75 268.41 L1092.28 268.37 L1094.81 268.33 L1097.34 268.29 L1099.87 268.25 L1102.4 268.21 L1104.92 268.18 L1107.45 268.14 L1109.98 268.1 L1112.51 268.07 L1115.03 268.03 L1117.56 267.99 L1120.08 267.94 L1122.6 267.9 L1125.13 267.85 L1127.65 267.8 L1130.17 267.75 L1132.69 267.69 L1135.2 267.63 L1137.72 267.57 L1140.24 267.5 L1142.75 267.42 L1145.26 267.34 L1147.77 267.25 L1150.28 267.16 L1152.79 267.06 L1155.29 266.96 L1157.8 266.85 L1160.3 266.73 L1162.8 266.6" fill="none" stroke="#cf2a52" stroke-width="1.4" stroke-linecap="round" stroke-linejoin="round" />
<path d="M848.4 342.3 L851.09 341.26 L853.54 340.03 L855.75 338.62 L857.74 337.05 L859.52 335.32 L861.11 333.45 L862.53 331.45 L863.78 329.33 L864.87 327.1 L865.84 324.77 L866.67 322.35 L867.4 319.85 L868.03 317.3 L868.57 314.68 L869.05 312.03 L869.48 309.35 L869.86 306.64 L870.21 303.93 L870.55 301.22 L870.89 298.53 L871.24 295.86 L871.62 293.22 L872.04 290.64 L872.51 288.11 L873.06 285.66 L873.68 283.28 L874.4 281" fill="none" stroke="#cf2a52" stroke-width="1.4" stroke-linecap="round" stroke-linejoin="round" />
<line x1="874.4" y1="281" x2="900.7" y2="281" stroke="#cf2a52" stroke-width="1.4" />
<path d="M848.4 355.1 L850.93 355.19 L853.53 355.23 L856.19 355.18 L858.88 355.05 L861.58 354.8 L864.27 354.44 L866.92 353.95 L869.51 353.31 L872.03 352.51 L874.43 351.53 L876.72 350.36 L878.86 348.99 L880.86 347.45 L882.72 345.74 L884.45 343.88 L886.04 341.89 L887.5 339.78 L888.83 337.58 L890.03 335.28 L891.1 332.92 L892.05 330.5 L892.88 328.03 L893.61 325.52 L894.25 322.98 L894.8 320.4 L895.29 317.79 L895.71 315.16 L896.09 312.52 L896.43 309.86 L896.74 307.2 L897.03 304.53 L897.31 301.87 L897.61 299.22 L897.91 296.59 L898.25 293.98 L898.62 291.39 L899.04 288.83 L899.52 286.31 L900.07 283.83 L900.7 281.4" fill="none" stroke="#120d0c" stroke-width="2.0" stroke-linecap="round" stroke-linejoin="round" />
<line x1="900.7" y1="281.5" x2="1162.9" y2="281.5" stroke="#120d0c" stroke-width="2.0" />
<line x1="848.4" y1="286.9" x2="899.2" y2="286.9" stroke="#120d0c" stroke-width="2.0" />
<path d="M899.6 286.9 L900.37 289.27 L901.1 291.65 L901.78 294.04 L902.44 296.45 L903.07 298.87 L903.68 301.3 L904.26 303.74 L904.84 306.18 L905.41 308.63 L905.97 311.08 L906.53 313.53 L907.1 315.99 L907.67 318.44 L908.25 320.9 L908.84 323.35 L909.44 325.8 L910.07 328.25 L910.71 330.69 L911.37 333.13 L912.07 335.56 L912.79 337.99 L913.54 340.41 L914.32 342.82 L915.14 345.23 L915.99 347.62 L916.88 350 L917.81 352.36 L918.78 354.71 L919.79 357.05 L920.84 359.37 L921.94 361.67 L923.08 363.95 L924.27 366.21 L925.51 368.44 L926.8 370.64 L928.15 372.8 L929.55 374.93 L931 377.01 L932.51 379.05 L934.08 381.03 L935.71 382.96 L937.4 384.84 L939.15 386.66 L940.95 388.42 L942.8 390.11 L944.71 391.74 L946.67 393.31 L948.68 394.8 L950.74 396.22 L952.85 397.56 L955 398.83 L957.19 400.02 L959.43 401.12 L961.71 402.15 L964.02 403.11 L966.37 404 L968.75 404.83 L971.16 405.59 L973.59 406.31 L976.04 406.97 L978.51 407.59 L981 408.17 L983.5 408.71 L986.01 409.22 L988.52 409.71 L991.04 410.17 L993.56 410.61 L996.08 411.04 L998.6 411.45 L1001.11 411.84 L1003.63 412.22 L1006.15 412.58 L1008.67 412.93 L1011.19 413.26 L1013.71 413.58 L1016.24 413.88 L1018.76 414.17 L1021.28 414.45 L1023.8 414.71 L1026.32 414.97 L1028.84 415.2 L1031.36 415.43 L1033.88 415.65 L1036.41 415.85 L1038.93 416.05 L1041.45 416.23 L1043.97 416.4 L1046.5 416.57 L1049.02 416.72 L1051.54 416.87 L1054.07 417.01 L1056.59 417.14 L1059.12 417.26 L1061.64 417.38 L1064.17 417.49 L1066.69 417.59 L1069.22 417.69 L1071.74 417.78 L1074.27 417.86 L1076.79 417.94 L1079.32 418.02 L1081.84 418.09 L1084.37 418.16 L1086.9 418.23 L1089.42 418.29 L1091.95 418.35 L1094.48 418.4 L1097.01 418.46 L1099.53 418.51 L1102.06 418.57 L1104.59 418.62 L1107.12 418.67 L1109.65 418.72 L1112.17 418.77 L1114.7 418.83 L1117.23 418.88 L1119.76 418.94 L1122.29 418.99 L1124.82 419.05 L1127.35 419.12 L1129.88 419.18 L1132.41 419.25 L1134.94 419.33 L1137.48 419.4 L1140.01 419.49 L1142.54 419.57 L1145.07 419.67 L1147.6 419.77 L1150.13 419.87 L1152.67 419.98 L1155.2 420.1 L1157.73 420.23 L1160.27 420.36 L1162.8 420.5" fill="none" stroke="#120d0c" stroke-width="2.0" stroke-linecap="round" stroke-linejoin="round" />
<path d="M848.4 423.4 L900.7 315.7" fill="none" stroke="#120d0c" stroke-width="2.0" stroke-linejoin="round" />
<path d="M900.7 315.9 L902.59 314.1 L904.51 312.36 L906.45 310.66 L908.43 309.01 L910.44 307.4 L912.48 305.84 L914.55 304.33 L916.64 302.86 L918.76 301.43 L920.9 300.05 L923.07 298.71 L925.27 297.41 L927.49 296.16 L929.73 294.94 L931.99 293.76 L934.27 292.62 L936.58 291.52 L938.9 290.46 L941.24 289.43 L943.6 288.44 L945.98 287.49 L948.37 286.56 L950.78 285.68 L953.21 284.82 L955.65 284 L958.1 283.21 L960.57 282.45 L963.05 281.72 L965.54 281.01 L968.04 280.34 L970.55 279.7 L973.07 279.08 L975.59 278.49 L978.13 277.92 L980.67 277.38 L983.22 276.86 L985.77 276.37 L988.33 275.9 L990.89 275.45 L993.46 275.02 L996.02 274.62 L998.59 274.23 L1001.16 273.86 L1003.73 273.51 L1006.3 273.18 L1008.87 272.86 L1011.43 272.56 L1014 272.28 L1016.55 272.01 L1019.11 271.76 L1021.66 271.51 L1024.2 271.28 L1026.74 271.07 L1029.27 270.86 L1031.79 270.66 L1034.3 270.48 L1036.8 270.3" fill="none" stroke="#120d0c" stroke-width="2.0" stroke-linecap="round" stroke-linejoin="round" />
<path d="M1036.8 270.3 L1092 268.6 L1162.8 266.9" fill="none" stroke="#120d0c" stroke-width="2.0" stroke-dasharray="16 40" stroke-dashoffset="-30"/>
<rect x="848.4" y="218.8" width="314.5" height="204.6" fill="none" stroke="#120d0c" stroke-width="1.6"/>
</g>
<g id="c3">
<line x1="253.04" y1="519.8" x2="253.04" y2="766.7" stroke="#120d0c" stroke-width="1.7" />
<line x1="301.78" y1="519.8" x2="301.78" y2="766.7" stroke="#120d0c" stroke-width="1.7" />
<line x1="350.52" y1="519.8" x2="350.52" y2="766.7" stroke="#120d0c" stroke-width="1.7" />
<line x1="399.26" y1="519.8" x2="399.26" y2="766.7" stroke="#120d0c" stroke-width="1.7" />
<line x1="448" y1="519.8" x2="448" y2="766.7" stroke="#120d0c" stroke-width="1.7" />
<line x1="496.74" y1="519.8" x2="496.74" y2="766.7" stroke="#120d0c" stroke-width="1.7" />
<line x1="204.3" y1="561.4" x2="545.48" y2="561.4" stroke="#120d0c" stroke-width="1.7" />
<line x1="204.3" y1="602.6" x2="545.48" y2="602.6" stroke="#120d0c" stroke-width="1.7" />
<line x1="204.3" y1="644" x2="545.48" y2="644" stroke="#120d0c" stroke-width="1.7" />
<line x1="204.3" y1="685.2" x2="545.48" y2="685.2" stroke="#120d0c" stroke-width="1.7" />
<line x1="204.3" y1="725.7" x2="545.48" y2="725.7" stroke="#120d0c" stroke-width="1.7" />
<rect x="204.3" y="519.8" width="341.18" height="246.9" fill="none" stroke="#120d0c" stroke-width="2.1"/>
<path d="M204.3 627.6 L206.43 626.06 L208.57 624.55 L210.73 623.07 L212.9 621.61 L215.09 620.18 L217.29 618.77 L219.51 617.38 L221.74 616.02 L223.98 614.68 L226.24 613.37 L228.5 612.08 L230.79 610.81 L233.08 609.56 L235.38 608.33 L237.7 607.12 L240.03 605.93 L242.36 604.77 L244.71 603.62 L247.07 602.49 L249.44 601.38 L251.81 600.29 L254.2 599.22 L256.59 598.16 L258.99 597.12 L261.4 596.1 L263.81 595.09 L266.23 594.1 L268.66 593.12 L271.09 592.16 L273.53 591.21 L275.98 590.28 L278.43 589.36 L280.88 588.45 L283.34 587.56 L285.81 586.67 L288.27 585.8 L290.74 584.94 L293.21 584.09 L295.69 583.26 L298.16 582.43 L300.64 581.61 L303.12 580.8 L305.6 580" fill="none" stroke="#e5202a" stroke-width="1.4" stroke-linecap="round" stroke-linejoin="round" />
<path d="M305.6 580 L308.06 579.41 L310.52 578.82 L312.97 578.21 L315.43 577.6 L317.88 576.97 L320.33 576.34 L322.78 575.71 L325.23 575.06 L327.67 574.41 L330.12 573.76 L332.56 573.11 L335.01 572.45 L337.45 571.8 L339.9 571.14 L342.34 570.48 L344.79 569.83 L347.24 569.17 L349.68 568.52 L352.13 567.88 L354.58 567.23 L357.03 566.6 L359.48 565.97 L361.94 565.34 L364.39 564.72 L366.85 564.11 L369.31 563.5 L371.77 562.9 L374.23 562.31 L376.69 561.73 L379.16 561.15 L381.62 560.59 L384.09 560.03 L386.56 559.48 L389.04 558.94 L391.51 558.42 L393.99 557.9 L396.47 557.39 L398.95 556.9 L401.44 556.42 L403.93 555.95 L406.42 555.49 L408.91 555.04 L411.4 554.61 L413.9 554.18 L416.4 553.77 L418.9 553.37 L421.4 552.97 L423.91 552.59 L426.41 552.22 L428.92 551.86 L431.43 551.5 L433.94 551.16 L436.45 550.83 L438.97 550.51 L441.48 550.19 L444 549.89 L446.52 549.59 L449.04 549.3 L451.56 549.02 L454.08 548.75 L456.6 548.48 L459.12 548.23 L461.65 547.98 L464.17 547.74 L466.69 547.5 L469.22 547.28 L471.74 547.06 L474.27 546.84 L476.8 546.64 L479.32 546.44 L481.85 546.24 L484.37 546.06 L486.9 545.87 L489.42 545.7 L491.95 545.53 L494.48 545.36 L497 545.2" fill="none" stroke="#120d0c" stroke-width="2.0" stroke-linecap="round" stroke-linejoin="round" />
<path d="M497 545.2 L545.5 541.2" fill="none" stroke="#e5202a" stroke-width="1.4" stroke-linecap="round" stroke-linejoin="round" />
<path d="M204.3 635.9 L206.41 634.34 L208.54 632.82 L210.69 631.33 L212.85 629.87 L215.04 628.45 L217.25 627.06 L219.47 625.7 L221.71 624.37 L223.96 623.07 L226.23 621.79 L228.52 620.54 L230.82 619.32 L233.13 618.12 L235.46 616.95 L237.8 615.8 L240.15 614.67 L242.51 613.56 L244.88 612.47 L247.26 611.39 L249.65 610.34 L252.05 609.3 L254.45 608.28 L256.87 607.27 L259.29 606.27 L261.71 605.29 L264.14 604.31 L266.57 603.35 L269.01 602.4 L271.45 601.45 L273.9 600.51 L276.34 599.58 L278.79 598.66 L281.24 597.73 L283.69 596.81 L286.13 595.89 L288.58 594.98 L291.02 594.06 L293.46 593.14 L295.9 592.22 L298.33 591.3 L300.76 590.37 L303.18 589.44 L305.6 588.5" fill="none" stroke="#e5202a" stroke-width="1.4" stroke-linecap="round" stroke-linejoin="round" />
<path d="M305.6 588.5 L308.07 587.82 L310.54 587.15 L313.02 586.48 L315.49 585.81 L317.97 585.14 L320.44 584.47 L322.92 583.81 L325.4 583.15 L327.88 582.5 L330.36 581.84 L332.84 581.19 L335.33 580.55 L337.81 579.9 L340.3 579.26 L342.78 578.63 L345.27 578 L347.76 577.37 L350.25 576.75 L352.74 576.13 L355.23 575.52 L357.72 574.92 L360.22 574.31 L362.71 573.72 L365.21 573.13 L367.71 572.54 L370.21 571.96 L372.71 571.39 L375.21 570.82 L377.71 570.26 L380.22 569.7 L382.72 569.15 L385.23 568.61 L387.74 568.07 L390.25 567.55 L392.76 567.02 L395.27 566.51 L397.79 566 L400.3 565.51 L402.82 565.02 L405.34 564.53 L407.86 564.06 L410.38 563.59 L412.9 563.13 L415.42 562.68 L417.95 562.24 L420.47 561.81 L423 561.39 L425.53 560.98 L428.06 560.57 L430.59 560.18 L433.13 559.79 L435.66 559.42 L438.2 559.05 L440.74 558.7 L443.28 558.36 L445.82 558.02 L448.36 557.7 L450.91 557.39 L453.46 557.09 L456 556.8 L458.55 556.52 L461.1 556.25 L463.66 555.99 L466.21 555.75 L468.77 555.52 L471.33 555.3 L473.89 555.09 L476.45 554.9 L479.01 554.71 L481.57 554.54 L484.14 554.39 L486.71 554.24 L489.28 554.11 L491.85 553.99 L494.42 553.89 L497 553.8" fill="none" stroke="#120d0c" stroke-width="2.0" stroke-linecap="round" stroke-linejoin="round" />
<path d="M497 553.8 L545.5 550.1" fill="none" stroke="#e5202a" stroke-width="1.4" stroke-linecap="round" stroke-linejoin="round" />
<path d="M204.3 687.3 L206.33 685.7 L208.39 684.12 L210.46 682.57 L212.55 681.05 L214.65 679.56 L216.77 678.09 L218.91 676.64 L221.06 675.22 L223.23 673.83 L225.41 672.46 L227.61 671.12 L229.82 669.79 L232.04 668.5 L234.28 667.22 L236.53 665.97 L238.79 664.74 L241.07 663.53 L243.36 662.34 L245.65 661.17 L247.96 660.02 L250.28 658.9 L252.61 657.79 L254.95 656.7 L257.3 655.63 L259.65 654.58 L262.02 653.55 L264.39 652.53 L266.77 651.54 L269.16 650.56 L271.56 649.59 L273.96 648.64 L276.37 647.71 L278.78 646.79 L281.2 645.89 L283.63 645 L286.05 644.13 L288.49 643.27 L290.92 642.42 L293.36 641.59 L295.81 640.77 L298.25 639.96 L300.7 639.16 L303.15 638.38 L305.6 637.6" fill="none" stroke="#e5202a" stroke-width="1.4" stroke-linecap="round" stroke-linejoin="round" />
<path d="M305.6 637.6 L308.07 636.98 L310.55 636.37 L313.03 635.77 L315.51 635.17 L317.99 634.58 L320.47 633.99 L322.95 633.41 L325.44 632.84 L327.92 632.27 L330.41 631.71 L332.89 631.16 L335.38 630.61 L337.87 630.07 L340.37 629.53 L342.86 629 L345.35 628.48 L347.85 627.96 L350.35 627.45 L352.84 626.95 L355.34 626.45 L357.84 625.96 L360.35 625.48 L362.85 625.01 L365.35 624.54 L367.86 624.08 L370.36 623.62 L372.87 623.17 L375.38 622.73 L377.89 622.3 L380.4 621.87 L382.91 621.46 L385.43 621.04 L387.94 620.64 L390.46 620.24 L392.97 619.85 L395.49 619.47 L398.01 619.1 L400.53 618.73 L403.05 618.37 L405.57 618.02 L408.1 617.68 L410.62 617.34 L413.14 617.01 L415.67 616.69 L418.2 616.38 L420.73 616.08 L423.26 615.78 L425.79 615.49 L428.32 615.21 L430.85 614.94 L433.38 614.68 L435.92 614.42 L438.45 614.18 L440.99 613.94 L443.52 613.71 L446.06 613.48 L448.6 613.27 L451.14 613.07 L453.68 612.87 L456.22 612.68 L458.76 612.5 L461.31 612.33 L463.85 612.17 L466.4 612.02 L468.94 611.88 L471.49 611.74 L474.04 611.62 L476.58 611.5 L479.13 611.39 L481.68 611.3 L484.23 611.21 L486.79 611.13 L489.34 611.06 L491.89 610.99 L494.45 610.94 L497 610.9" fill="none" stroke="#120d0c" stroke-width="2.0" stroke-linecap="round" stroke-linejoin="round" />
<path d="M497 610.9 L545.5 608.4" fill="none" stroke="#e5202a" stroke-width="1.4" stroke-linecap="round" stroke-linejoin="round" />
<path d="M204.3 735.3 L206.35 733.77 L208.41 732.25 L210.49 730.74 L212.58 729.26 L214.68 727.79 L216.8 726.33 L218.93 724.9 L221.08 723.48 L223.23 722.08 L225.4 720.69 L227.59 719.33 L229.78 717.98 L231.99 716.65 L234.21 715.34 L236.44 714.04 L238.68 712.77 L240.93 711.51 L243.19 710.28 L245.47 709.06 L247.75 707.87 L250.05 706.69 L252.36 705.54 L254.67 704.41 L257 703.29 L259.33 702.2 L261.67 701.13 L264.03 700.08 L266.39 699.06 L268.76 698.05 L271.14 697.07 L273.53 696.11 L275.92 695.18 L278.33 694.26 L280.74 693.37 L283.15 692.51 L285.58 691.66 L288.01 690.85 L290.45 690.05 L292.9 689.28 L295.35 688.54 L297.81 687.82 L300.27 687.13 L302.74 686.46 L305.22 685.82 L307.7 685.2" fill="none" stroke="#e5202a" stroke-width="1.4" stroke-linecap="round" stroke-linejoin="round" />
<path d="M307.7 685.2 L310.18 684.57 L312.66 683.93 L315.13 683.31 L317.62 682.69 L320.1 682.07 L322.58 681.46 L325.06 680.85 L327.55 680.25 L330.04 679.66 L332.52 679.07 L335.01 678.49 L337.5 677.91 L340 677.34 L342.49 676.78 L344.98 676.22 L347.48 675.67 L349.98 675.12 L352.48 674.59 L354.98 674.06 L357.48 673.54 L359.98 673.02 L362.48 672.51 L364.99 672.02 L367.5 671.53 L370 671.04 L372.51 670.57 L375.03 670.1 L377.54 669.65 L380.05 669.2 L382.57 668.76 L385.08 668.33 L387.6 667.91 L390.12 667.5 L392.64 667.09 L395.17 666.7 L397.69 666.32 L400.22 665.95 L402.74 665.59 L405.27 665.24 L407.8 664.9 L410.34 664.56 L412.87 664.24 L415.4 663.93 L417.94 663.63 L420.48 663.33 L423.02 663.05 L425.55 662.78 L428.1 662.51 L430.64 662.25 L433.18 662.01 L435.72 661.77 L438.27 661.53 L440.82 661.31 L443.36 661.1 L445.91 660.89 L448.46 660.69 L451.01 660.5 L453.56 660.32 L456.11 660.15 L458.66 659.98 L461.21 659.82 L463.77 659.67 L466.32 659.52 L468.88 659.39 L471.43 659.25 L473.99 659.13 L476.54 659.01 L479.1 658.9 L481.65 658.8 L484.21 658.7 L486.77 658.61 L489.33 658.52 L491.88 658.44 L494.44 658.37 L497 658.3" fill="none" stroke="#120d0c" stroke-width="2.0" stroke-linecap="round" stroke-linejoin="round" />
<path d="M497 658.3 L545.5 656.2" fill="none" stroke="#e5202a" stroke-width="1.4" stroke-linecap="round" stroke-linejoin="round" />
<text x="200.8" y="527.25" font-size="13" fill="#2f2826" font-family="'Liberation Sans', sans-serif" text-anchor="end" textLength="23.5" lengthAdjust="spacingAndGlyphs" class="b">120</text>
<text x="200.8" y="566.25" font-size="13" fill="#2f2826" font-family="'Liberation Sans', sans-serif" text-anchor="end" textLength="23.5" lengthAdjust="spacingAndGlyphs" class="b">100</text>
<text x="196" y="607.45" font-size="13" fill="#2f2826" font-family="'Liberation Sans', sans-serif" text-anchor="end" textLength="15" lengthAdjust="spacingAndGlyphs" class="b">80</text>
<text x="196" y="648.85" font-size="13" fill="#2f2826" font-family="'Liberation Sans', sans-serif" text-anchor="end" textLength="15" lengthAdjust="spacingAndGlyphs" class="b">60</text>
<text x="196" y="689.85" font-size="13" fill="#2f2826" font-family="'Liberation Sans', sans-serif" text-anchor="end" textLength="15" lengthAdjust="spacingAndGlyphs" class="b">40</text>
<text x="196" y="733.25" font-size="13" fill="#2f2826" font-family="'Liberation Sans', sans-serif" text-anchor="end" textLength="15" lengthAdjust="spacingAndGlyphs" class="b">20</text>
<text x="188.6" y="771.05" font-size="13" fill="#2f2826" font-family="'Liberation Sans', sans-serif" text-anchor="end" textLength="7.4" lengthAdjust="spacingAndGlyphs" class="b">0</text>
<text x="204.7" y="783" font-size="13.4" fill="#2f2826" font-family="'Liberation Sans', sans-serif" text-anchor="middle" textLength="22.6" lengthAdjust="spacingAndGlyphs" class="b">−20</text>
<text x="250.8" y="783" font-size="13.4" fill="#2f2826" font-family="'Liberation Sans', sans-serif" text-anchor="middle" textLength="22.6" lengthAdjust="spacingAndGlyphs" class="b">−10</text>
<text x="297.5" y="783" font-size="13.4" fill="#2f2826" font-family="'Liberation Sans', sans-serif" text-anchor="middle" textLength="8" lengthAdjust="spacingAndGlyphs" class="b">0</text>
<text x="350.9" y="783" font-size="13.4" fill="#2f2826" font-family="'Liberation Sans', sans-serif" text-anchor="middle" textLength="16" lengthAdjust="spacingAndGlyphs" class="b">10</text>
<text x="399.3" y="783" font-size="13.4" fill="#2f2826" font-family="'Liberation Sans', sans-serif" text-anchor="middle" textLength="16" lengthAdjust="spacingAndGlyphs" class="b">20</text>
<text x="448" y="783" font-size="13.4" fill="#2f2826" font-family="'Liberation Sans', sans-serif" text-anchor="middle" textLength="16" lengthAdjust="spacingAndGlyphs" class="b">30</text>
<text x="492.6" y="783" font-size="13.4" fill="#2f2826" font-family="'Liberation Sans', sans-serif" text-anchor="middle" textLength="16" lengthAdjust="spacingAndGlyphs" class="b">40</text>
<text x="541.2" y="783" font-size="13.4" fill="#2f2826" font-family="'Liberation Sans', sans-serif" text-anchor="middle" textLength="16" lengthAdjust="spacingAndGlyphs" class="b">50</text>
<text x="549.8" y="541.67" font-size="12.2" fill="#2f2826" font-family="'Liberation Sans', sans-serif" textLength="40.5" lengthAdjust="spacingAndGlyphs" class="b">0.05C</text>
<text x="549.8" y="558.17" font-size="12.2" fill="#2f2826" font-family="'Liberation Sans', sans-serif" textLength="32" lengthAdjust="spacingAndGlyphs" class="b">0.1C</text>
<text x="549.8" y="613.17" font-size="12.2" fill="#2f2826" font-family="'Liberation Sans', sans-serif" textLength="40.5" lengthAdjust="spacingAndGlyphs" class="b">0.25C</text>
<text x="549.8" y="661.77" font-size="12.2" fill="#2f2826" font-family="'Liberation Sans', sans-serif" textLength="17.5" lengthAdjust="spacingAndGlyphs" class="b">1C</text>
<text x="393.6" y="803.4" font-size="15" fill="#2f2826" font-family="'Liberation Sans', sans-serif" textLength="100.5" lengthAdjust="spacingAndGlyphs" class="b">Temperature</text>
<text x="500.5" y="804.5" font-size="20" fill="#2f2826" font-family="'Liberation Sans', sans-serif" class="b">(</text>
<text x="509" y="803.2" font-size="13" fill="#2f2826" font-family="'Liberation Sans', 'WenQuanYi Zen Hei', 'Noto Sans CJK SC', sans-serif" textLength="17.4" lengthAdjust="spacingAndGlyphs" class="b">℃</text>
<text x="526.8" y="804.5" font-size="20" fill="#2f2826" font-family="'Liberation Sans', sans-serif" class="b">)</text>
<text transform="translate(158 648.6) rotate(-90)" class="b" font-size="17.2" fill="#2f2826" font-family="'Liberation Sans', sans-serif" textLength="60" lengthAdjust="spacingAndGlyphs">Capacity</text>
<text transform="translate(158.6 578.5) rotate(-90)" class="b" font-size="20" fill="#2f2826" font-family="'Liberation Sans', sans-serif" textLength="32.5" lengthAdjust="spacingAndGlyphs">(%)</text>
</g>
<g id="c4">
<line x1="813.99" y1="513.7" x2="813.99" y2="770.84" stroke="#151010" stroke-width="1.3" />
<line x1="836.57" y1="513.7" x2="836.57" y2="770.84" stroke="#151010" stroke-width="1.3" />
<line x1="859.15" y1="513.7" x2="859.15" y2="770.84" stroke="#151010" stroke-width="1.3" />
<line x1="881.74" y1="513.7" x2="881.74" y2="770.84" stroke="#151010" stroke-width="1.3" />
<line x1="904.33" y1="513.7" x2="904.33" y2="770.84" stroke="#151010" stroke-width="1.3" />
<line x1="926.91" y1="513.7" x2="926.91" y2="770.84" stroke="#151010" stroke-width="1.3" />
<line x1="949.5" y1="513.7" x2="949.5" y2="770.84" stroke="#151010" stroke-width="1.3" />
<line x1="972.08" y1="513.7" x2="972.08" y2="770.84" stroke="#151010" stroke-width="1.3" />
<line x1="994.66" y1="513.7" x2="994.66" y2="770.84" stroke="#151010" stroke-width="1.3" />
<line x1="1017.25" y1="513.7" x2="1017.25" y2="770.84" stroke="#151010" stroke-width="1.3" />
<line x1="1039.84" y1="513.7" x2="1039.84" y2="770.84" stroke="#151010" stroke-width="1.3" />
<line x1="1062.42" y1="513.7" x2="1062.42" y2="770.84" stroke="#151010" stroke-width="1.3" />
<line x1="1085.01" y1="513.7" x2="1085.01" y2="770.84" stroke="#151010" stroke-width="1.3" />
<line x1="1107.59" y1="513.7" x2="1107.59" y2="770.84" stroke="#151010" stroke-width="1.3" />
<line x1="1130.17" y1="513.7" x2="1130.17" y2="770.84" stroke="#151010" stroke-width="1.3" />
<line x1="1152.76" y1="513.7" x2="1152.76" y2="770.84" stroke="#151010" stroke-width="1.3" />
<line x1="791.4" y1="533.48" x2="1175.35" y2="533.48" stroke="#151010" stroke-width="1.3" />
<line x1="791.4" y1="553.26" x2="1175.35" y2="553.26" stroke="#151010" stroke-width="1.3" />
<line x1="791.4" y1="573.04" x2="1175.35" y2="573.04" stroke="#151010" stroke-width="1.3" />
<line x1="791.4" y1="592.82" x2="1175.35" y2="592.82" stroke="#151010" stroke-width="1.3" />
<line x1="791.4" y1="612.6" x2="1175.35" y2="612.6" stroke="#151010" stroke-width="1.3" />
<line x1="791.4" y1="632.38" x2="1175.35" y2="632.38" stroke="#151010" stroke-width="1.3" />
<line x1="791.4" y1="652.16" x2="1175.35" y2="652.16" stroke="#151010" stroke-width="1.3" />
<line x1="791.4" y1="671.94" x2="1175.35" y2="671.94" stroke="#151010" stroke-width="1.3" />
<line x1="791.4" y1="691.72" x2="1175.35" y2="691.72" stroke="#151010" stroke-width="1.3" />
<line x1="791.4" y1="711.5" x2="1175.35" y2="711.5" stroke="#151010" stroke-width="1.3" />
<line x1="791.4" y1="731.28" x2="1175.35" y2="731.28" stroke="#151010" stroke-width="1.3" />
<line x1="791.4" y1="751.06" x2="1175.35" y2="751.06" stroke="#151010" stroke-width="1.3" />
<rect x="791.4" y="513.7" width="383.95" height="257.14" fill="none" stroke="#151010" stroke-width="1.7"/>
<line x1="791.4" y1="523.59" x2="796.6" y2="523.59" stroke="#151010" stroke-width="1.2" />
<line x1="791.4" y1="543.37" x2="796.6" y2="543.37" stroke="#151010" stroke-width="1.2" />
<line x1="791.4" y1="563.15" x2="796.6" y2="563.15" stroke="#151010" stroke-width="1.2" />
<line x1="791.4" y1="582.93" x2="796.6" y2="582.93" stroke="#151010" stroke-width="1.2" />
<line x1="791.4" y1="602.71" x2="796.6" y2="602.71" stroke="#151010" stroke-width="1.2" />
<line x1="791.4" y1="622.49" x2="796.6" y2="622.49" stroke="#151010" stroke-width="1.2" />
<line x1="791.4" y1="642.27" x2="796.6" y2="642.27" stroke="#151010" stroke-width="1.2" />
<line x1="791.4" y1="662.05" x2="796.6" y2="662.05" stroke="#151010" stroke-width="1.2" />
<line x1="791.4" y1="681.83" x2="796.6" y2="681.83" stroke="#151010" stroke-width="1.2" />
<line x1="791.4" y1="701.61" x2="796.6" y2="701.61" stroke="#151010" stroke-width="1.2" />
<line x1="791.4" y1="721.39" x2="796.6" y2="721.39" stroke="#151010" stroke-width="1.2" />
<line x1="791.4" y1="741.17" x2="796.6" y2="741.17" stroke="#151010" stroke-width="1.2" />
<line x1="791.4" y1="760.95" x2="796.6" y2="760.95" stroke="#151010" stroke-width="1.2" />
<line x1="802.69" y1="770.84" x2="802.69" y2="767.44" stroke="#151010" stroke-width="1.2" />
<line x1="825.28" y1="770.84" x2="825.28" y2="767.44" stroke="#151010" stroke-width="1.2" />
<line x1="847.86" y1="770.84" x2="847.86" y2="767.44" stroke="#151010" stroke-width="1.2" />
<line x1="870.45" y1="770.84" x2="870.45" y2="767.44" stroke="#151010" stroke-width="1.2" />
<line x1="893.03" y1="770.84" x2="893.03" y2="767.44" stroke="#151010" stroke-width="1.2" />
<line x1="915.62" y1="770.84" x2="915.62" y2="767.44" stroke="#151010" stroke-width="1.2" />
<line x1="938.2" y1="770.84" x2="938.2" y2="767.44" stroke="#151010" stroke-width="1.2" />
<line x1="960.79" y1="770.84" x2="960.79" y2="767.44" stroke="#151010" stroke-width="1.2" />
<line x1="983.37" y1="770.84" x2="983.37" y2="767.44" stroke="#151010" stroke-width="1.2" />
<line x1="1005.96" y1="770.84" x2="1005.96" y2="767.44" stroke="#151010" stroke-width="1.2" />
<line x1="1028.54" y1="770.84" x2="1028.54" y2="767.44" stroke="#151010" stroke-width="1.2" />
<line x1="1051.13" y1="770.84" x2="1051.13" y2="767.44" stroke="#151010" stroke-width="1.2" />
<line x1="1073.71" y1="770.84" x2="1073.71" y2="767.44" stroke="#151010" stroke-width="1.2" />
<line x1="1096.3" y1="770.84" x2="1096.3" y2="767.44" stroke="#151010" stroke-width="1.2" />
<line x1="1118.88" y1="770.84" x2="1118.88" y2="767.44" stroke="#151010" stroke-width="1.2" />
<line x1="1141.47" y1="770.84" x2="1141.47" y2="767.44" stroke="#151010" stroke-width="1.2" />
<line x1="1164.05" y1="770.84" x2="1164.05" y2="767.44" stroke="#151010" stroke-width="1.2" />
<path d="M791.4 533.5 L792.12 535.96 L792.88 538.4 L793.66 540.83 L794.47 543.25 L795.31 545.66 L796.17 548.05 L797.07 550.43 L797.98 552.8 L798.92 555.16 L799.88 557.51 L800.87 559.84 L801.88 562.17 L802.91 564.48 L803.96 566.79 L805.03 569.09 L806.12 571.38 L807.23 573.65 L808.36 575.93 L809.5 578.19 L810.67 580.44 L811.85 582.69 L813.04 584.93 L814.25 587.16 L815.47 589.39 L816.7 591.61 L817.95 593.82 L819.21 596.03 L820.48 598.23 L821.77 600.43 L823.06 602.62 L824.36 604.81 L825.67 606.99 L826.98 609.17 L828.31 611.35 L829.64 613.52 L830.97 615.69 L832.31 617.86 L833.66 620.03 L835.01 622.19 L836.36 624.35 L837.71 626.51 L839.07 628.67 L840.43 630.83 L841.79 632.98 L843.15 635.14 L844.51 637.29 L845.88 639.45 L847.24 641.6 L848.61 643.75 L849.98 645.9 L851.35 648.05 L852.72 650.2 L854.09 652.35 L855.47 654.5 L856.84 656.64 L858.21 658.79 L859.59 660.94 L860.96 663.08 L862.34 665.23 L863.72 667.37 L865.09 669.52 L866.47 671.66 L867.84 673.81 L869.22 675.95 L870.59 678.1 L871.97 680.24 L873.34 682.39 L874.71 684.53 L876.08 686.68 L877.46 688.82 L878.83 690.97 L880.19 693.12 L881.56 695.26 L882.93 697.41 L884.29 699.56 L885.65 701.71 L887.02 703.86 L888.38 706.01 L889.73 708.16 L891.09 710.31 L892.44 712.47 L893.79 714.62 L895.14 716.78 L896.49 718.93 L897.83 721.09 L899.17 723.25 L900.51 725.41 L901.84 727.57 L903.17 729.74 L904.5 731.9" fill="none" stroke="#151010" stroke-width="1.9" stroke-linecap="round" stroke-linejoin="round" />
<path d="M791.4 533.5 L792.66 535.73 L793.95 537.94 L795.28 540.12 L796.63 542.26 L798.02 544.38 L799.44 546.48 L800.89 548.55 L802.36 550.59 L803.86 552.6 L805.39 554.6 L806.95 556.57 L808.53 558.51 L810.14 560.43 L811.77 562.33 L813.43 564.21 L815.11 566.07 L816.81 567.91 L818.53 569.73 L820.27 571.52 L822.04 573.3 L823.82 575.07 L825.62 576.81 L827.44 578.54 L829.28 580.25 L831.13 581.95 L833.01 583.63 L834.89 585.29 L836.79 586.95 L838.71 588.59 L840.64 590.21 L842.58 591.83 L844.53 593.43 L846.49 595.02 L848.47 596.6 L850.45 598.17 L852.45 599.74 L854.45 601.29 L856.46 602.84 L858.48 604.37 L860.5 605.91 L862.53 607.43 L864.57 608.95 L866.61 610.47 L868.65 611.98 L870.69 613.48 L872.74 614.98 L874.79 616.49 L876.84 617.98 L878.89 619.48 L880.94 620.98 L882.99 622.47 L885.04 623.97 L887.09 625.46 L889.13 626.96 L891.18 628.45 L893.22 629.95 L895.26 631.44 L897.3 632.94 L899.34 634.43 L901.37 635.93 L903.41 637.42 L905.44 638.92 L907.48 640.42 L909.51 641.91 L911.54 643.41 L913.57 644.91 L915.6 646.4 L917.63 647.9 L919.65 649.4 L921.68 650.9 L923.71 652.4 L925.73 653.9 L927.75 655.4 L929.78 656.9 L931.8 658.4 L933.82 659.9 L935.84 661.4 L937.86 662.9 L939.88 664.41 L941.89 665.91 L943.91 667.42 L945.93 668.92 L947.94 670.43 L949.96 671.93 L951.97 673.44 L953.99 674.95 L956 676.46 L958.02 677.97 L960.03 679.48 L962.04 680.99 L964.05 682.51 L966.06 684.02 L968.08 685.54 L970.09 687.05 L972.1 688.57 L974.11 690.09 L976.12 691.61 L978.13 693.13 L980.14 694.65 L982.15 696.17 L984.16 697.7 L986.17 699.22 L988.18 700.75 L990.19 702.28 L992.2 703.81 L994.21 705.34 L996.22 706.87 L998.23 708.41 L1000.24 709.94 L1002.25 711.48 L1004.26 713.02 L1006.27 714.55 L1008.28 716.1 L1010.29 717.64 L1012.3 719.18 L1014.31 720.73 L1016.32 722.28 L1018.33 723.83 L1020.35 725.38 L1022.36 726.93 L1024.37 728.49 L1026.39 730.04 L1028.4 731.6" fill="none" stroke="#151010" stroke-width="1.9" stroke-linecap="round" stroke-linejoin="round" />
<path d="M791.4 533.5 L793.2 535.29 L795.02 537.06 L796.85 538.8 L798.71 540.51 L800.58 542.19 L802.47 543.86 L804.38 545.49 L806.31 547.11 L808.25 548.7 L810.21 550.27 L812.18 551.82 L814.17 553.34 L816.18 554.85 L818.2 556.33 L820.23 557.79 L822.27 559.24 L824.33 560.67 L826.4 562.08 L828.49 563.47 L830.58 564.85 L832.69 566.2 L834.81 567.55 L836.94 568.88 L839.07 570.19 L841.22 571.49 L843.38 572.78 L845.54 574.06 L847.72 575.32 L849.9 576.57 L852.09 577.81 L854.28 579.04 L856.48 580.26 L858.69 581.47 L860.91 582.67 L863.13 583.87 L865.35 585.06 L867.58 586.24 L869.81 587.41 L872.05 588.58 L874.29 589.74 L876.53 590.9 L878.77 592.06 L881.02 593.21 L883.26 594.36 L885.51 595.5 L887.76 596.65 L890.01 597.79 L892.26 598.93 L894.51 600.06 L896.77 601.2 L899.02 602.33 L901.28 603.46 L903.53 604.59 L905.79 605.72 L908.05 606.84 L910.31 607.96 L912.56 609.08 L914.82 610.2 L917.09 611.32 L919.35 612.44 L921.61 613.55 L923.87 614.66 L926.14 615.77 L928.4 616.88 L930.67 617.99 L932.93 619.1 L935.2 620.21 L937.46 621.31 L939.73 622.42 L942 623.52 L944.26 624.62 L946.53 625.72 L948.8 626.82 L951.07 627.92 L953.34 629.02 L955.61 630.12 L957.87 631.22 L960.14 632.32 L962.41 633.42 L964.68 634.51 L966.95 635.61 L969.22 636.71 L971.49 637.8 L973.76 638.9 L976.03 640 L978.3 641.09 L980.57 642.19 L982.84 643.29 L985.1 644.38 L987.37 645.48 L989.64 646.58 L991.91 647.68 L994.18 648.78 L996.44 649.88 L998.71 650.98 L1000.98 652.08 L1003.24 653.18 L1005.51 654.28 L1007.78 655.38 L1010.04 656.49 L1012.3 657.59 L1014.57 658.7 L1016.83 659.81 L1019.09 660.91 L1021.36 662.02 L1023.62 663.13 L1025.88 664.25 L1028.14 665.36 L1030.39 666.48 L1032.65 667.59 L1034.91 668.71 L1037.17 669.83 L1039.42 670.95 L1041.67 672.08 L1043.93 673.2 L1046.18 674.33 L1048.43 675.46 L1050.68 676.59 L1052.93 677.73 L1055.18 678.86 L1057.43 680 L1059.67 681.14 L1061.92 682.29 L1064.16 683.43 L1066.4 684.58 L1068.64 685.73 L1070.88 686.88 L1073.12 688.04 L1075.35 689.2 L1077.59 690.36 L1079.82 691.52 L1082.05 692.69 L1084.28 693.86 L1086.51 695.04 L1088.74 696.21 L1090.97 697.39 L1093.19 698.58 L1095.41 699.76 L1097.63 700.95 L1099.85 702.15 L1102.07 703.34 L1104.28 704.54 L1106.5 705.75 L1108.71 706.96 L1110.92 708.17 L1113.13 709.38 L1115.33 710.6 L1117.54 711.83 L1119.74 713.06 L1121.94 714.29 L1124.13 715.52 L1126.33 716.76 L1128.52 718.01 L1130.71 719.26 L1132.9 720.51 L1135.09 721.77 L1137.27 723.03 L1139.46 724.3 L1141.64 725.57 L1143.81 726.85 L1145.99 728.13 L1148.16 729.41 L1150.33 730.7 L1152.5 732" fill="none" stroke="#151010" stroke-width="1.9" stroke-linecap="round" stroke-linejoin="round" />
<circle cx="791.4" cy="533.5" r="3.3" fill="none" stroke="#151010" stroke-width="1.5"/>
<circle cx="904.5" cy="731.9" r="3.3" fill="none" stroke="#151010" stroke-width="1.5"/>
<circle cx="1028.4" cy="731.7" r="3.3" fill="none" stroke="#151010" stroke-width="1.5"/>
<circle cx="1152.5" cy="732" r="3.3" fill="none" stroke="#151010" stroke-width="1.5"/>
<rect x="855" y="696.7" width="23" height="13" fill="#fff"/>
<text x="855.5" y="707.95" font-size="11.6" fill="#2f2826" font-family="'Liberation Sans', sans-serif" textLength="10.2" lengthAdjust="spacingAndGlyphs">40</text>
<text x="865.9" y="707.7" font-size="12" fill="#2f2826" font-family="'Liberation Sans', 'WenQuanYi Zen Hei', 'Noto Sans CJK SC', sans-serif" textLength="11.4" lengthAdjust="spacingAndGlyphs" class="b">℃</text>
<rect x="959.3" y="696.5" width="23" height="13" fill="#fff"/>
<text x="959.8" y="707.75" font-size="11.6" fill="#2f2826" font-family="'Liberation Sans', sans-serif" textLength="10.2" lengthAdjust="spacingAndGlyphs">30</text>
<text x="970.2" y="707.5" font-size="12" fill="#2f2826" font-family="'Liberation Sans', 'WenQuanYi Zen Hei', 'Noto Sans CJK SC', sans-serif" textLength="11.4" lengthAdjust="spacingAndGlyphs" class="b">℃</text>
<rect x="1057.2" y="697" width="23" height="13" fill="#fff"/>
<text x="1057.7" y="708.25" font-size="11.6" fill="#2f2826" font-family="'Liberation Sans', sans-serif" textLength="10.2" lengthAdjust="spacingAndGlyphs">20</text>
<text x="1068.1" y="708" font-size="12" fill="#2f2826" font-family="'Liberation Sans', 'WenQuanYi Zen Hei', 'Noto Sans CJK SC', sans-serif" textLength="11.4" lengthAdjust="spacingAndGlyphs" class="b">℃</text>
<text x="784.6" y="538.53" font-size="13" fill="#2f2826" font-family="'Liberation Sans', sans-serif" text-anchor="end" textLength="25.6" lengthAdjust="spacingAndGlyphs" class="b">100</text>
<text x="783.4" y="578.09" font-size="13" fill="#2f2826" font-family="'Liberation Sans', sans-serif" text-anchor="end" textLength="16.6" lengthAdjust="spacingAndGlyphs" class="b">90</text>
<text x="783.4" y="617.65" font-size="13" fill="#2f2826" font-family="'Liberation Sans', sans-serif" text-anchor="end" textLength="16.6" lengthAdjust="spacingAndGlyphs" class="b">80</text>
<text x="783.4" y="657.21" font-size="13" fill="#2f2826" font-family="'Liberation Sans', sans-serif" text-anchor="end" textLength="16.6" lengthAdjust="spacingAndGlyphs" class="b">70</text>
<text x="783.4" y="696.77" font-size="13" fill="#2f2826" font-family="'Liberation Sans', sans-serif" text-anchor="end" textLength="16.6" lengthAdjust="spacingAndGlyphs" class="b">60</text>
<text x="783.4" y="736.33" font-size="13" fill="#2f2826" font-family="'Liberation Sans', sans-serif" text-anchor="end" textLength="16.6" lengthAdjust="spacingAndGlyphs" class="b">50</text>
<text x="783.4" y="776.49" font-size="13" fill="#2f2826" font-family="'Liberation Sans', sans-serif" text-anchor="end" textLength="16.6" lengthAdjust="spacingAndGlyphs" class="b">40</text>
<text x="792.5" y="788.33" font-size="13.2" fill="#2f2826" font-family="'Liberation Sans', sans-serif" text-anchor="middle" textLength="8" lengthAdjust="spacingAndGlyphs" class="b">0</text>
<text x="835.2" y="788.33" font-size="13.2" fill="#2f2826" font-family="'Liberation Sans', sans-serif" text-anchor="middle" textLength="8" lengthAdjust="spacingAndGlyphs" class="b">2</text>
<text x="879.3" y="788.33" font-size="13.2" fill="#2f2826" font-family="'Liberation Sans', sans-serif" text-anchor="middle" textLength="8" lengthAdjust="spacingAndGlyphs" class="b">4</text>
<text x="926" y="788.33" font-size="13.2" fill="#2f2826" font-family="'Liberation Sans', sans-serif" text-anchor="middle" textLength="8" lengthAdjust="spacingAndGlyphs" class="b">6</text>
<text x="971.3" y="788.33" font-size="13.2" fill="#2f2826" font-family="'Liberation Sans', sans-serif" text-anchor="middle" textLength="8" lengthAdjust="spacingAndGlyphs" class="b">8</text>
<text x="1016.9" y="788.33" font-size="13.2" fill="#2f2826" font-family="'Liberation Sans', sans-serif" text-anchor="middle" textLength="15.4" lengthAdjust="spacingAndGlyphs" class="b">10</text>
<text x="1062" y="788.33" font-size="13.2" fill="#2f2826" font-family="'Liberation Sans', sans-serif" text-anchor="middle" textLength="15.4" lengthAdjust="spacingAndGlyphs" class="b">12</text>
<text x="1106.9" y="788.33" font-size="13.2" fill="#2f2826" font-family="'Liberation Sans', sans-serif" text-anchor="middle" textLength="15.4" lengthAdjust="spacingAndGlyphs" class="b">14</text>
<text x="1152" y="788.33" font-size="13.2" fill="#2f2826" font-family="'Liberation Sans', sans-serif" text-anchor="middle" textLength="15.4" lengthAdjust="spacingAndGlyphs" class="b">16</text>
<text x="1062" y="807.24" font-size="15.2" fill="#2f2826" font-family="'Liberation Sans', sans-serif" text-anchor="middle" textLength="181" lengthAdjust="spacingAndGlyphs" class="b">Storage time(months)</text>
<text transform="translate(746 643.6) rotate(-90)" class="b" font-size="17" fill="#2f2826" font-family="'Liberation Sans', sans-serif" textLength="48.6" lengthAdjust="spacingAndGlyphs">Capacity</text>
<text transform="translate(746.4 585.4) rotate(-90)" class="b" font-size="21" fill="#2f2826" font-family="'Liberation Sans', sans-serif" textLength="38.5" lengthAdjust="spacingAndGlyphs">(%)</text>
</g>
<g id="c5">
<line x1="190.2" y1="876.2" x2="190.2" y2="1104.8" stroke="#2e2624" stroke-width="1.25" />
<line x1="245.97" y1="876.2" x2="245.97" y2="1104.8" stroke="#2e2624" stroke-width="1.25" />
<line x1="301.74" y1="876.2" x2="301.74" y2="1104.8" stroke="#2e2624" stroke-width="1.25" />
<line x1="357.51" y1="876.2" x2="357.51" y2="1104.8" stroke="#2e2624" stroke-width="1.25" />
<line x1="413.28" y1="876.2" x2="413.28" y2="1104.8" stroke="#2e2624" stroke-width="1.25" />
<line x1="469.05" y1="876.2" x2="469.05" y2="1104.8" stroke="#2e2624" stroke-width="1.25" />
<line x1="524.82" y1="876.2" x2="524.82" y2="1104.8" stroke="#2e2624" stroke-width="1.25" />
<line x1="580.59" y1="876.2" x2="580.59" y2="1104.8" stroke="#2e2624" stroke-width="1.25" />
<line x1="190.2" y1="876.2" x2="580.59" y2="876.2" stroke="#2e2624" stroke-width="1.25" />
<line x1="190.2" y1="888.5" x2="580.59" y2="888.5" stroke="#2e2624" stroke-width="1.25" />
<line x1="190.2" y1="898.2" x2="580.59" y2="898.2" stroke="#2e2624" stroke-width="1.25" />
<line x1="190.2" y1="907.5" x2="580.59" y2="907.5" stroke="#2e2624" stroke-width="1.25" />
<line x1="190.2" y1="916.3" x2="580.59" y2="916.3" stroke="#2e2624" stroke-width="1.25" />
<line x1="190.2" y1="924" x2="580.59" y2="924" stroke="#2e2624" stroke-width="1.25" />
<line x1="190.2" y1="934.4" x2="580.59" y2="934.4" stroke="#2e2624" stroke-width="1.25" />
<line x1="190.2" y1="944.5" x2="580.59" y2="944.5" stroke="#2e2624" stroke-width="1.25" />
<line x1="190.2" y1="953.1" x2="580.59" y2="953.1" stroke="#2e2624" stroke-width="1.25" />
<line x1="190.2" y1="963.3" x2="580.59" y2="963.3" stroke="#2e2624" stroke-width="1.25" />
<line x1="190.2" y1="972.8" x2="580.59" y2="972.8" stroke="#2e2624" stroke-width="1.25" />
<line x1="190.2" y1="994.3" x2="580.59" y2="994.3" stroke="#2e2624" stroke-width="1.25" />
<line x1="190.2" y1="1012.6" x2="580.59" y2="1012.6" stroke="#2e2624" stroke-width="1.25" />
<line x1="190.2" y1="1040.5" x2="580.59" y2="1040.5" stroke="#2e2624" stroke-width="1.25" />
<line x1="190.2" y1="1074.7" x2="580.59" y2="1074.7" stroke="#2e2624" stroke-width="1.25" />
<line x1="190.2" y1="1104.8" x2="580.59" y2="1104.8" stroke="#2e2624" stroke-width="1.25" />
<path d="M246.1 888.4 L248.55 888.67 L251.03 888.89 L253.52 889.07 L256.04 889.22 L258.57 889.35 L261.11 889.46 L263.66 889.57 L266.22 889.69 L268.77 889.82 L271.33 889.97 L273.88 890.15 L276.42 890.38 L278.94 890.66 L281.46 890.99 L283.95 891.4 L286.42 891.87 L288.86 892.44 L291.28 893.08 L293.67 893.81 L296.03 894.63 L298.35 895.54 L300.64 896.54 L302.9 897.61 L305.13 898.76 L307.33 899.97 L309.5 901.24 L311.66 902.56 L313.79 903.92 L315.91 905.32 L318.01 906.75 L320.1 908.19 L322.19 909.65 L324.26 911.11 L326.34 912.58 L328.41 914.04 L330.48 915.51 L332.55 916.96 L334.62 918.41 L336.7 919.85 L338.79 921.27 L340.87 922.69 L342.95 924.11 L345.04 925.52 L347.12 926.93 L349.21 928.35 L351.28 929.76 L353.36 931.19 L355.43 932.62 L357.49 934.06 L359.54 935.52 L361.59 936.98 L363.64 938.46 L365.67 939.95 L367.7 941.44 L369.72 942.95 L371.74 944.46 L373.75 945.99 L375.76 947.52 L377.77 949.05 L379.77 950.6 L381.76 952.15 L383.75 953.7 L385.74 955.26 L387.72 956.83 L389.71 958.39 L391.69 959.96 L393.66 961.54 L395.64 963.11 L397.61 964.69 L399.58 966.27 L401.55 967.85 L403.52 969.43 L405.49 971.02 L407.45 972.6 L409.42 974.19 L411.38 975.78 L413.34 977.37 L415.3 978.96 L417.26 980.56 L419.21 982.15 L421.17 983.75 L423.12 985.35 L425.08 986.94 L427.03 988.54 L428.98 990.14 L430.93 991.74 L432.89 993.34 L434.84 994.95 L436.79 996.55 L438.73 998.15 L440.68 999.76 L442.63 1001.36 L444.58 1002.97 L446.53 1004.57 L448.48 1006.18 L450.42 1007.78 L452.37 1009.39 L454.32 1011 L456.26 1012.6 L458.21 1014.21 L460.16 1015.82 L462.1 1017.42 L464.05 1019.03 L466 1020.64 L467.94 1022.25 L469.89 1023.86 L471.83 1025.46 L473.78 1027.07 L475.73 1028.68 L477.67 1030.29 L479.62 1031.9 L481.56 1033.5 L483.51 1035.11 L485.46 1036.72 L487.4 1038.33 L489.35 1039.94 L491.3 1041.54 L493.24 1043.15 L495.19 1044.76 L497.14 1046.36 L499.09 1047.97 L501.03 1049.57 L502.98 1051.18 L504.93 1052.78 L506.88 1054.39 L508.83 1055.99 L510.78 1057.6 L512.73 1059.2 L514.68 1060.8 L516.63 1062.4 L518.58 1064.01 L520.53 1065.61 L522.49 1067.21 L524.44 1068.81 L526.39 1070.4 L528.35 1072 L530.3 1073.6 L510 1073.6 L508.04 1071.99 L506.08 1070.38 L504.11 1068.77 L502.15 1067.16 L500.19 1065.55 L498.22 1063.95 L496.25 1062.34 L494.29 1060.73 L492.32 1059.13 L490.35 1057.53 L488.38 1055.92 L486.41 1054.32 L484.44 1052.72 L482.47 1051.12 L480.5 1049.52 L478.53 1047.92 L476.56 1046.32 L474.58 1044.72 L472.61 1043.13 L470.63 1041.53 L468.66 1039.93 L466.68 1038.34 L464.71 1036.74 L462.73 1035.15 L460.75 1033.56 L458.77 1031.96 L456.79 1030.37 L454.82 1028.78 L452.84 1027.19 L450.85 1025.6 L448.87 1024.01 L446.89 1022.42 L444.91 1020.83 L442.93 1019.25 L440.94 1017.66 L438.96 1016.07 L436.98 1014.49 L434.99 1012.9 L433.01 1011.32 L431.02 1009.73 L429.04 1008.15 L427.05 1006.57 L425.07 1004.98 L423.08 1003.4 L421.09 1001.82 L419.1 1000.24 L417.12 998.66 L415.13 997.08 L413.14 995.5 L411.15 993.92 L409.16 992.34 L407.17 990.76 L405.18 989.19 L403.19 987.61 L401.2 986.03 L399.21 984.46 L397.22 982.88 L395.23 981.3 L393.24 979.73 L391.24 978.15 L389.25 976.58 L387.26 975.01 L385.27 973.43 L383.27 971.86 L381.28 970.29 L379.29 968.72 L377.29 967.14 L375.3 965.57 L373.31 964 L371.31 962.43 L369.32 960.86 L367.33 959.29 L365.33 957.72 L363.34 956.15 L361.34 954.58 L359.35 953.01 L357.35 951.44 L355.36 949.88 L353.36 948.31 L351.37 946.74 L349.38 945.17 L347.38 943.61 L345.39 942.04 L343.39 940.47 L341.4 938.91 L339.4 937.34 L337.41 935.77 L335.41 934.21 L333.42 932.64 L331.42 931.08 L329.43 929.51 L327.43 927.94 L325.44 926.37 L323.44 924.79 L321.45 923.2 L319.46 921.6 L317.46 920 L315.46 918.4 L313.44 916.82 L311.41 915.27 L309.35 913.77 L307.26 912.31 L305.14 910.93 L302.99 909.62 L300.78 908.4 L298.53 907.28 L296.23 906.27 L293.89 905.36 L291.5 904.55 L289.08 903.85 L286.63 903.26 L284.15 902.78 L281.64 902.4 L279.11 902.12 L276.56 901.91 L274 901.76 L271.43 901.66 L268.86 901.59 L266.28 901.53 L263.7 901.46 L261.14 901.38 L258.58 901.27 L256.04 901.1 L253.51 900.86 L251.01 900.55 L248.54 900.13 L246.1 899.6 Z" fill="#fff" stroke="none"/>
<path d="M246.1 888.4 L248.55 888.67 L251.03 888.89 L253.52 889.07 L256.04 889.22 L258.57 889.35 L261.11 889.46 L263.66 889.57 L266.22 889.69 L268.77 889.82 L271.33 889.97 L273.88 890.15 L276.42 890.38 L278.94 890.66 L281.46 890.99 L283.95 891.4 L286.42 891.87 L288.86 892.44 L291.28 893.08 L293.67 893.81 L296.03 894.63 L298.35 895.54 L300.64 896.54 L302.9 897.61 L305.13 898.76 L307.33 899.97 L309.5 901.24 L311.66 902.56 L313.79 903.92 L315.91 905.32 L318.01 906.75 L320.1 908.19 L322.19 909.65 L324.26 911.11 L326.34 912.58 L328.41 914.04 L330.48 915.51 L332.55 916.96 L334.62 918.41 L336.7 919.85 L338.79 921.27 L340.87 922.69 L342.95 924.11 L345.04 925.52 L347.12 926.93 L349.21 928.35 L351.28 929.76 L353.36 931.19 L355.43 932.62 L357.49 934.06 L359.54 935.52 L361.59 936.98 L363.64 938.46 L365.67 939.95 L367.7 941.44 L369.72 942.95 L371.74 944.46 L373.75 945.99 L375.76 947.52 L377.77 949.05 L379.77 950.6 L381.76 952.15 L383.75 953.7 L385.74 955.26 L387.72 956.83 L389.71 958.39 L391.69 959.96 L393.66 961.54 L395.64 963.11 L397.61 964.69 L399.58 966.27 L401.55 967.85 L403.52 969.43 L405.49 971.02 L407.45 972.6 L409.42 974.19 L411.38 975.78 L413.34 977.37 L415.3 978.96 L417.26 980.56 L419.21 982.15 L421.17 983.75 L423.12 985.35 L425.08 986.94 L427.03 988.54 L428.98 990.14 L430.93 991.74 L432.89 993.34 L434.84 994.95 L436.79 996.55 L438.73 998.15 L440.68 999.76 L442.63 1001.36 L444.58 1002.97 L446.53 1004.57 L448.48 1006.18 L450.42 1007.78 L452.37 1009.39 L454.32 1011 L456.26 1012.6 L458.21 1014.21 L460.16 1015.82 L462.1 1017.42 L464.05 1019.03 L466 1020.64 L467.94 1022.25 L469.89 1023.86 L471.83 1025.46 L473.78 1027.07 L475.73 1028.68 L477.67 1030.29 L479.62 1031.9 L481.56 1033.5 L483.51 1035.11 L485.46 1036.72 L487.4 1038.33 L489.35 1039.94 L491.3 1041.54 L493.24 1043.15 L495.19 1044.76 L497.14 1046.36 L499.09 1047.97 L501.03 1049.57 L502.98 1051.18 L504.93 1052.78 L506.88 1054.39 L508.83 1055.99 L510.78 1057.6 L512.73 1059.2 L514.68 1060.8 L516.63 1062.4 L518.58 1064.01 L520.53 1065.61 L522.49 1067.21 L524.44 1068.81 L526.39 1070.4 L528.35 1072 L530.3 1073.6" fill="none" stroke="#2e2624" stroke-width="1.15" stroke-linecap="round" stroke-linejoin="round"/>
<path d="M246.1 899.6 L248.54 900.13 L251.01 900.55 L253.51 900.86 L256.04 901.1 L258.58 901.27 L261.14 901.38 L263.7 901.46 L266.28 901.53 L268.86 901.59 L271.43 901.66 L274 901.76 L276.56 901.91 L279.11 902.12 L281.64 902.4 L284.15 902.78 L286.63 903.26 L289.08 903.85 L291.5 904.55 L293.89 905.36 L296.23 906.27 L298.53 907.28 L300.78 908.4 L302.99 909.62 L305.14 910.93 L307.26 912.31 L309.35 913.77 L311.41 915.27 L313.44 916.82 L315.46 918.4 L317.46 920 L319.46 921.6 L321.45 923.2 L323.44 924.79 L325.44 926.37 L327.43 927.94 L329.43 929.51 L331.42 931.08 L333.42 932.64 L335.41 934.21 L337.41 935.77 L339.4 937.34 L341.4 938.91 L343.39 940.47 L345.39 942.04 L347.38 943.61 L349.38 945.17 L351.37 946.74 L353.36 948.31 L355.36 949.88 L357.35 951.44 L359.35 953.01 L361.34 954.58 L363.34 956.15 L365.33 957.72 L367.33 959.29 L369.32 960.86 L371.31 962.43 L373.31 964 L375.3 965.57 L377.29 967.14 L379.29 968.72 L381.28 970.29 L383.27 971.86 L385.27 973.43 L387.26 975.01 L389.25 976.58 L391.24 978.15 L393.24 979.73 L395.23 981.3 L397.22 982.88 L399.21 984.46 L401.2 986.03 L403.19 987.61 L405.18 989.19 L407.17 990.76 L409.16 992.34 L411.15 993.92 L413.14 995.5 L415.13 997.08 L417.12 998.66 L419.1 1000.24 L421.09 1001.82 L423.08 1003.4 L425.07 1004.98 L427.05 1006.57 L429.04 1008.15 L431.02 1009.73 L433.01 1011.32 L434.99 1012.9 L436.98 1014.49 L438.96 1016.07 L440.94 1017.66 L442.93 1019.25 L444.91 1020.83 L446.89 1022.42 L448.87 1024.01 L450.85 1025.6 L452.84 1027.19 L454.82 1028.78 L456.79 1030.37 L458.77 1031.96 L460.75 1033.56 L462.73 1035.15 L464.71 1036.74 L466.68 1038.34 L468.66 1039.93 L470.63 1041.53 L472.61 1043.13 L474.58 1044.72 L476.56 1046.32 L478.53 1047.92 L480.5 1049.52 L482.47 1051.12 L484.44 1052.72 L486.41 1054.32 L488.38 1055.92 L490.35 1057.53 L492.32 1059.13 L494.29 1060.73 L496.25 1062.34 L498.22 1063.95 L500.19 1065.55 L502.15 1067.16 L504.11 1068.77 L506.08 1070.38 L508.04 1071.99 L510 1073.6" fill="none" stroke="#2e2624" stroke-width="1.15" stroke-linecap="round" stroke-linejoin="round"/>
<line x1="246.1" y1="888" x2="246.1" y2="900" stroke="#2e2624" stroke-width="1.25" />
<line x1="509" y1="1074.7" x2="531" y2="1074.7" stroke="#2e2624" stroke-width="1.25" />
<rect x="305" y="975.5" width="50" height="13" fill="#fff"/>
<text x="305.6" y="985.39" font-size="10.6" fill="#2f2826" font-family="'Liberation Sans', sans-serif" textLength="48.5" lengthAdjust="spacingAndGlyphs">2.30V/Cell</text>
<text x="182.8" y="882.93" font-size="16" fill="#2f2826" font-family="'Liberation Sans', sans-serif" text-anchor="end" textLength="15.4" lengthAdjust="spacingAndGlyphs" class="b">15</text>
<text x="180.2" y="928.13" font-size="16" fill="#2f2826" font-family="'Liberation Sans', sans-serif" text-anchor="end" textLength="15.4" lengthAdjust="spacingAndGlyphs" class="b">10</text>
<text x="182" y="978.53" font-size="16" fill="#2f2826" font-family="'Liberation Sans', sans-serif" text-anchor="end" textLength="7.6" lengthAdjust="spacingAndGlyphs" class="b">5</text>
<text x="179.4" y="1080.53" font-size="16" fill="#2f2826" font-family="'Liberation Sans', sans-serif" text-anchor="end" textLength="7.6" lengthAdjust="spacingAndGlyphs" class="b">1</text>
<text x="186.1" y="1113.73" font-size="16" fill="#2f2826" font-family="'Liberation Sans', sans-serif" text-anchor="end" textLength="19.6" lengthAdjust="spacingAndGlyphs" class="b">0.5</text>
<text x="237.6" y="1123.87" font-size="16.4" fill="#2f2826" font-family="'Liberation Sans', sans-serif" text-anchor="middle" textLength="16.8" lengthAdjust="spacingAndGlyphs" class="b">10</text>
<text x="298.6" y="1123.87" font-size="16.4" fill="#2f2826" font-family="'Liberation Sans', sans-serif" text-anchor="middle" textLength="16.8" lengthAdjust="spacingAndGlyphs" class="b">20</text>
<text x="356.8" y="1123.87" font-size="16.4" fill="#2f2826" font-family="'Liberation Sans', sans-serif" text-anchor="middle" textLength="16.8" lengthAdjust="spacingAndGlyphs" class="b">30</text>
<text x="413" y="1123.87" font-size="16.4" fill="#2f2826" font-family="'Liberation Sans', sans-serif" text-anchor="middle" textLength="16.8" lengthAdjust="spacingAndGlyphs" class="b">40</text>
<text x="469.3" y="1123.87" font-size="16.4" fill="#2f2826" font-family="'Liberation Sans', sans-serif" text-anchor="middle" textLength="16.8" lengthAdjust="spacingAndGlyphs" class="b">50</text>
<text x="524.6" y="1123.87" font-size="16.4" fill="#2f2826" font-family="'Liberation Sans', sans-serif" text-anchor="middle" textLength="16.8" lengthAdjust="spacingAndGlyphs" class="b">60</text>
<text x="383.3" y="1142.2" font-size="17.2" fill="#2f2826" font-family="'Liberation Sans', sans-serif" textLength="95.5" lengthAdjust="spacingAndGlyphs" class="b">Temperature</text>
<text x="478.5" y="1144.5" font-size="25" fill="#2f2826" font-family="'Liberation Sans', sans-serif" class="b">(</text>
<text x="488" y="1141.8" font-size="15" fill="#2f2826" font-family="'Liberation Sans', 'WenQuanYi Zen Hei', 'Noto Sans CJK SC', sans-serif" textLength="17.8" lengthAdjust="spacingAndGlyphs" class="b">℃</text>
<text x="506.2" y="1144.5" font-size="25" fill="#2f2826" font-family="'Liberation Sans', sans-serif" class="b">)</text>
<text transform="translate(156 979.6) rotate(-90)" class="b" font-size="17.6" fill="#2f2826" font-family="'Liberation Sans', sans-serif" textLength="78.8" lengthAdjust="spacingAndGlyphs">Life (years)</text>
</g>
<g id="c6">
<line x1="765.3" y1="879.7" x2="765.3" y2="1104.1" stroke="#2a2220" stroke-width="1.3" />
<line x1="810.36" y1="879.7" x2="810.36" y2="1104.1" stroke="#2a2220" stroke-width="1.3" />
<line x1="855.42" y1="879.7" x2="855.42" y2="1104.1" stroke="#2a2220" stroke-width="1.3" />
<line x1="900.48" y1="879.7" x2="900.48" y2="1104.1" stroke="#2a2220" stroke-width="1.3" />
<line x1="945.54" y1="879.7" x2="945.54" y2="1104.1" stroke="#2a2220" stroke-width="1.3" />
<line x1="990.6" y1="879.7" x2="990.6" y2="1104.1" stroke="#2a2220" stroke-width="1.3" />
<line x1="1035.66" y1="879.7" x2="1035.66" y2="1104.1" stroke="#2a2220" stroke-width="1.3" />
<line x1="1080.72" y1="879.7" x2="1080.72" y2="1104.1" stroke="#2a2220" stroke-width="1.3" />
<line x1="1125.78" y1="879.7" x2="1125.78" y2="1104.1" stroke="#2a2220" stroke-width="1.3" />
<line x1="1170.84" y1="879.7" x2="1170.84" y2="1104.1" stroke="#2a2220" stroke-width="1.3" />
<line x1="765.3" y1="879.7" x2="1170.84" y2="879.7" stroke="#2a2220" stroke-width="1.3" />
<line x1="765.3" y1="917.1" x2="1170.84" y2="917.1" stroke="#2a2220" stroke-width="1.3" />
<line x1="765.3" y1="954.5" x2="1170.84" y2="954.5" stroke="#2a2220" stroke-width="1.3" />
<line x1="765.3" y1="991.9" x2="1170.84" y2="991.9" stroke="#2a2220" stroke-width="1.3" />
<line x1="765.3" y1="1029.3" x2="1170.84" y2="1029.3" stroke="#2a2220" stroke-width="1.3" />
<line x1="765.3" y1="1066.7" x2="1170.84" y2="1066.7" stroke="#2a2220" stroke-width="1.3" />
<line x1="765.3" y1="1104.1" x2="1170.84" y2="1104.1" stroke="#2a2220" stroke-width="1.3" />
<rect x="765.3" y="879.7" width="405.54" height="224.4" fill="none" stroke="#2a2220" stroke-width="1.5"/>
<path d="M765.4 916.8 L767.77 915.6 L770.21 914.45 L772.69 913.38 L775.23 912.39 L777.8 911.49 L780.41 910.7 L783.04 910.04 L785.69 909.5 L788.36 909.11 L791.04 908.88 L793.72 908.82 L796.39 908.94 L799.05 909.25 L801.69 909.74 L804.3 910.42 L806.87 911.31 L809.4 912.4" fill="none" stroke="#2a2220" stroke-width="1.7" stroke-linecap="round" stroke-linejoin="round" />
<path d="M809.4 912.4 L811.6 915.6 L840.4 991.9" fill="none" stroke="#2a2220" stroke-width="1.7" stroke-linejoin="round" />
<path d="M765.4 916.8 L767.99 916.06 L770.61 915.32 L773.25 914.6 L775.91 913.92 L778.59 913.28 L781.29 912.69 L784 912.18 L786.71 911.75 L789.43 911.41 L792.16 911.18 L794.88 911.07 L797.6 911.09 L800.31 911.25 L803.01 911.57 L805.69 912.06 L808.36 912.73 L811 913.6" fill="none" stroke="#2a2220" stroke-width="1.7" stroke-linecap="round" stroke-linejoin="round" />
<path d="M811 913.6 L813.8 916.2 L819.2 922.4 L851.2 991.9" fill="none" stroke="#2a2220" stroke-width="1.7" stroke-linejoin="round" />
<path d="M765.4 916.8 L767.7 915.67 L770.04 914.59 L772.42 913.58 L774.84 912.64 L777.28 911.79 L779.75 911.05 L782.24 910.42 L784.74 909.92 L787.24 909.57 L789.74 909.38 L792.24 909.35 L794.73 909.5 L797.22 909.79 L799.7 910.19 L802.19 910.66 L804.69 911.17 L807.2 911.69 L809.73 912.18 L812.28 912.61 L814.84 913 L817.42 913.37 L819.99 913.72 L822.57 914.07 L825.14 914.45 L827.69 914.85 L830.22 915.3 L832.73 915.82 L835.21 916.41 L837.66 917.1 L840.06 917.88 L842.43 918.75 L844.77 919.71 L847.07 920.75 L849.33 921.87 L851.56 923.05 L853.76 924.31 L855.93 925.63 L858.08 927.01 L860.19 928.44 L862.27 929.93 L864.33 931.45 L866.37 933.02 L868.38 934.62 L870.36 936.26 L872.33 937.92 L874.27 939.6 L876.19 941.3 L878.1 943.02 L879.99 944.75 L881.86 946.5 L883.72 948.26 L885.56 950.02 L887.4 951.8 L889.23 953.59 L891.05 955.38 L892.86 957.18 L894.67 958.98 L896.48 960.78 L898.28 962.58 L900.09 964.38 L901.9 966.18 L903.71 967.98 L905.52 969.77 L907.35 971.55 L909.18 973.32 L911.02 975.09 L912.87 976.84 L914.73 978.59 L916.61 980.32 L918.51 982.03 L920.42 983.72 L922.35 985.4 L924.3 987.06 L926.28 988.7 L928.28 990.31 L930.3 991.9" fill="none" stroke="#2a2220" stroke-width="1.7" stroke-linecap="round" stroke-linejoin="round" />
<path d="M765.4 916.8 L767.84 915.91 L770.3 915.12 L772.78 914.42 L775.26 913.81 L777.76 913.29 L780.27 912.84 L782.79 912.48 L785.31 912.18 L787.84 911.96 L790.38 911.81 L792.92 911.72 L795.47 911.69 L798.01 911.72 L800.56 911.8 L803.1 911.94 L805.64 912.12 L808.18 912.34 L810.71 912.61 L813.24 912.91 L815.77 913.24 L818.29 913.62 L820.8 914.02 L823.31 914.45 L825.82 914.92 L828.33 915.41 L830.83 915.92 L833.34 916.46 L835.84 917.02 L838.34 917.6 L840.83 918.21 L843.32 918.84 L845.81 919.49 L848.28 920.18 L850.75 920.89 L853.2 921.64 L855.64 922.43 L858.06 923.26 L860.46 924.13 L862.85 925.04 L865.21 926 L867.55 927.01 L869.86 928.07 L872.14 929.18 L874.39 930.35 L876.61 931.58 L878.8 932.87 L880.95 934.22 L883.07 935.62 L885.16 937.07 L887.23 938.57 L889.27 940.11 L891.29 941.68 L893.29 943.28 L895.27 944.91 L897.23 946.56 L899.18 948.23 L901.12 949.91 L903.05 951.59 L904.97 953.29 L906.89 954.98 L908.8 956.69 L910.7 958.39 L912.6 960.1 L914.49 961.81 L916.39 963.53 L918.28 965.24 L920.17 966.95 L922.06 968.66 L923.96 970.37 L925.85 972.07 L927.75 973.77 L929.66 975.46 L931.57 977.15 L933.49 978.83 L935.42 980.5 L937.35 982.16 L939.29 983.82 L941.25 985.46 L943.22 987.09 L945.2 988.71 L947.19 990.31 L949.2 991.9" fill="none" stroke="#2a2220" stroke-width="1.7" stroke-linecap="round" stroke-linejoin="round" />
<path d="M765.4 916.8 L767.91 916.61 L770.41 916.42 L772.92 916.23 L775.43 916.05 L777.95 915.87 L780.46 915.69 L782.97 915.51 L785.49 915.35 L788 915.18 L790.52 915.02 L793.03 914.86 L795.55 914.71 L798.07 914.56 L800.59 914.42 L803.11 914.28 L805.63 914.14 L808.15 914.01 L810.67 913.89 L813.2 913.77 L815.72 913.66 L818.24 913.55 L820.77 913.45 L823.29 913.35 L825.82 913.26 L828.34 913.18 L830.87 913.1 L833.4 913.03 L835.92 912.96 L838.45 912.91 L840.98 912.86 L843.5 912.81 L846.03 912.78 L848.56 912.75 L851.08 912.72 L853.61 912.71 L856.14 912.7 L858.67 912.7 L861.19 912.71 L863.72 912.73 L866.25 912.76 L868.77 912.79 L871.3 912.83 L873.83 912.88 L876.35 912.94 L878.88 913.01 L881.4 913.09 L883.93 913.18 L886.45 913.27 L888.97 913.38 L891.5 913.5 L894.02 913.62 L896.54 913.76 L899.06 913.9 L901.58 914.06 L904.1 914.22 L906.62 914.4 L909.14 914.59 L911.66 914.79 L914.17 914.99 L916.69 915.21 L919.21 915.45 L921.72 915.69 L924.23 915.94 L926.74 916.21 L929.25 916.49 L931.76 916.77 L934.27 917.08 L936.78 917.39 L939.29 917.71 L941.79 918.05 L944.29 918.4 L946.8 918.77 L949.3 919.14 L951.79 919.54 L954.29 919.95 L956.78 920.37 L959.27 920.82 L961.75 921.28 L964.23 921.77 L966.7 922.28 L969.16 922.81 L971.62 923.37 L974.06 923.96 L976.5 924.57 L978.93 925.22 L981.35 925.89 L983.76 926.6 L986.16 927.34 L988.54 928.11 L990.92 928.93 L993.28 929.77 L995.62 930.66 L997.96 931.58 L1000.28 932.52 L1002.6 933.5 L1004.9 934.51 L1007.19 935.55 L1009.47 936.61 L1011.75 937.69 L1014.01 938.8 L1016.27 939.93 L1018.52 941.08 L1020.77 942.24 L1023 943.42 L1025.24 944.61 L1027.46 945.82 L1029.68 947.04 L1031.9 948.27 L1034.11 949.5 L1036.33 950.74 L1038.53 951.99 L1040.74 953.23 L1042.94 954.49 L1045.14 955.75 L1047.34 957.01 L1049.53 958.27 L1051.72 959.54 L1053.91 960.82 L1056.1 962.09 L1058.29 963.37 L1060.47 964.65 L1062.65 965.94 L1064.83 967.23 L1067.01 968.51 L1069.18 969.81 L1071.35 971.1 L1073.52 972.39 L1075.69 973.69 L1077.86 974.99 L1080.03 976.29 L1082.19 977.59 L1084.35 978.89 L1086.51 980.19 L1088.67 981.49 L1090.83 982.79 L1092.99 984.1 L1095.14 985.4 L1097.3 986.7 L1099.45 988 L1101.6 989.3 L1103.75 990.6 L1105.9 991.9" fill="none" stroke="#2a2220" stroke-width="1.7" stroke-linecap="round" stroke-linejoin="round" />
<path d="M765.4 916.8 L767.92 916.66 L770.43 916.51 L772.95 916.37 L775.47 916.24 L777.98 916.1 L780.5 915.97 L783.02 915.84 L785.53 915.72 L788.05 915.59 L790.56 915.47 L793.08 915.36 L795.59 915.25 L798.11 915.14 L800.62 915.03 L803.14 914.93 L805.65 914.83 L808.17 914.74 L810.68 914.65 L813.19 914.57 L815.71 914.48 L818.22 914.41 L820.74 914.33 L823.25 914.27 L825.77 914.2 L828.28 914.14 L830.79 914.09 L833.31 914.04 L835.82 914 L838.34 913.96 L840.85 913.92 L843.36 913.9 L845.88 913.87 L848.39 913.85 L850.91 913.84 L853.42 913.83 L855.94 913.83 L858.45 913.84 L860.97 913.85 L863.48 913.87 L865.99 913.89 L868.51 913.92 L871.03 913.95 L873.54 913.99 L876.06 914.04 L878.57 914.1 L881.09 914.16 L883.6 914.23 L886.12 914.3 L888.64 914.38 L891.15 914.47 L893.67 914.57 L896.19 914.67 L898.7 914.78 L901.22 914.9 L903.74 915.02 L906.26 915.16 L908.77 915.3 L911.29 915.45 L913.81 915.61 L916.32 915.77 L918.84 915.95 L921.36 916.14 L923.87 916.33 L926.38 916.54 L928.9 916.76 L931.41 916.99 L933.92 917.23 L936.43 917.48 L938.93 917.74 L941.44 918.01 L943.94 918.3 L946.45 918.6 L948.95 918.91 L951.44 919.24 L953.94 919.58 L956.43 919.93 L958.92 920.3 L961.41 920.68 L963.89 921.07 L966.37 921.48 L968.85 921.91 L971.33 922.35 L973.8 922.81 L976.27 923.28 L978.73 923.77 L981.2 924.28 L983.65 924.8 L986.11 925.34 L988.56 925.9 L991 926.48 L993.44 927.08 L995.88 927.69 L998.31 928.32 L1000.74 928.96 L1003.16 929.62 L1005.59 930.29 L1008 930.98 L1010.42 931.68 L1012.83 932.4 L1015.24 933.12 L1017.65 933.86 L1020.05 934.6 L1022.45 935.36 L1024.85 936.12 L1027.25 936.89 L1029.65 937.67 L1032.04 938.46 L1034.43 939.25 L1036.83 940.04 L1039.22 940.84 L1041.6 941.65 L1043.99 942.46 L1046.38 943.28 L1048.76 944.1 L1051.14 944.94 L1053.51 945.78 L1055.89 946.63 L1058.25 947.48 L1060.62 948.35 L1062.98 949.23 L1065.34 950.12 L1067.69 951.02 L1070.04 951.93 L1072.38 952.85 L1074.71 953.79 L1077.04 954.74 L1079.37 955.7 L1081.69 956.68 L1084 957.67 L1086.3 958.68 L1088.6 959.7 L1090.89 960.74 L1093.18 961.79 L1095.46 962.85 L1097.73 963.92 L1100 965.01 L1102.26 966.11 L1104.51 967.23 L1106.76 968.35 L1109 969.49 L1111.24 970.64 L1113.47 971.81 L1115.7 972.98 L1117.92 974.17 L1120.13 975.37 L1122.34 976.58 L1124.54 977.8 L1126.73 979.03 L1128.93 980.27 L1131.11 981.52 L1133.29 982.79 L1135.46 984.06 L1137.63 985.34 L1139.8 986.64 L1141.96 987.94 L1144.11 989.25 L1146.26 990.57 L1148.4 991.9" fill="none" stroke="#2a2220" stroke-width="1.7" stroke-linecap="round" stroke-linejoin="round" />
<rect x="799.5" y="993.2" width="69" height="14" fill="#fff"/>
<text x="801" y="1003.48" font-size="8.6" fill="#2f2826" font-family="'Liberation Sans', sans-serif" textLength="17.5" lengthAdjust="spacingAndGlyphs">100</text>
<text x="818.7" y="1004.05" font-size="13" fill="#2f2826" font-family="'Liberation Sans', sans-serif" font-weight="bold" textLength="12.2" lengthAdjust="spacingAndGlyphs">%</text>
<text x="834.5" y="1003.48" font-size="8.6" fill="#2f2826" font-family="'Liberation Sans', sans-serif" textLength="30.5" lengthAdjust="spacingAndGlyphs">D.O.D.</text>
<rect x="903.3" y="993.2" width="63" height="14" fill="#fff"/>
<text x="904.8" y="1003.48" font-size="8.6" fill="#2f2826" font-family="'Liberation Sans', sans-serif" textLength="11.5" lengthAdjust="spacingAndGlyphs">50</text>
<text x="916.5" y="1004.05" font-size="13" fill="#2f2826" font-family="'Liberation Sans', sans-serif" font-weight="bold" textLength="12.2" lengthAdjust="spacingAndGlyphs">%</text>
<text x="932.3" y="1003.48" font-size="8.6" fill="#2f2826" font-family="'Liberation Sans', sans-serif" textLength="30.5" lengthAdjust="spacingAndGlyphs">D.O.D.</text>
<rect x="1099.7" y="993.2" width="66" height="14" fill="#fff"/>
<text x="1101.2" y="1003.48" font-size="8.6" fill="#2f2826" font-family="'Liberation Sans', sans-serif" textLength="11.5" lengthAdjust="spacingAndGlyphs">30</text>
<text x="1112.9" y="1004.05" font-size="13" fill="#2f2826" font-family="'Liberation Sans', sans-serif" font-weight="bold" textLength="12.2" lengthAdjust="spacingAndGlyphs">%</text>
<text x="1128.7" y="1003.48" font-size="8.6" fill="#2f2826" font-family="'Liberation Sans', sans-serif" textLength="33.5" lengthAdjust="spacingAndGlyphs">D.O. D.</text>
<text x="760.8" y="883.34" font-size="11" fill="#2f2826" font-family="'Liberation Sans', sans-serif" text-anchor="end" textLength="18.3" lengthAdjust="spacingAndGlyphs">120</text>
<text x="760.8" y="920.24" font-size="11" fill="#2f2826" font-family="'Liberation Sans', sans-serif" text-anchor="end" textLength="18.3" lengthAdjust="spacingAndGlyphs">100</text>
<text x="760.8" y="960.24" font-size="11" fill="#2f2826" font-family="'Liberation Sans', sans-serif" text-anchor="end" textLength="12.2" lengthAdjust="spacingAndGlyphs">80</text>
<text x="760.8" y="999.24" font-size="11" fill="#2f2826" font-family="'Liberation Sans', sans-serif" text-anchor="end" textLength="12.2" lengthAdjust="spacingAndGlyphs">60</text>
<text x="760.8" y="1037.44" font-size="11" fill="#2f2826" font-family="'Liberation Sans', sans-serif" text-anchor="end" textLength="12.2" lengthAdjust="spacingAndGlyphs">40</text>
<text x="760.8" y="1076.24" font-size="11" fill="#2f2826" font-family="'Liberation Sans', sans-serif" text-anchor="end" textLength="12.2" lengthAdjust="spacingAndGlyphs">20</text>
<text x="759.2" y="1117.24" font-size="11" fill="#2f2826" font-family="'Liberation Sans', sans-serif" text-anchor="middle">0</text>
<text x="810.36" y="1120.02" font-size="10.4" fill="#2f2826" font-family="'Liberation Sans', sans-serif" text-anchor="middle" textLength="17.5" lengthAdjust="spacingAndGlyphs">200</text>
<text x="855.42" y="1120.02" font-size="10.4" fill="#2f2826" font-family="'Liberation Sans', sans-serif" text-anchor="middle" textLength="17.5" lengthAdjust="spacingAndGlyphs">400</text>
<text x="900.48" y="1120.02" font-size="10.4" fill="#2f2826" font-family="'Liberation Sans', sans-serif" text-anchor="middle" textLength="17.5" lengthAdjust="spacingAndGlyphs">600</text>
<text x="945.54" y="1120.02" font-size="10.4" fill="#2f2826" font-family="'Liberation Sans', sans-serif" text-anchor="middle" textLength="17.5" lengthAdjust="spacingAndGlyphs">800</text>
<text x="990.6" y="1120.02" font-size="10.4" fill="#2f2826" font-family="'Liberation Sans', sans-serif" text-anchor="middle" textLength="22.6" lengthAdjust="spacingAndGlyphs">1000</text>
<text x="1035.66" y="1120.02" font-size="10.4" fill="#2f2826" font-family="'Liberation Sans', sans-serif" text-anchor="middle" textLength="22.6" lengthAdjust="spacingAndGlyphs">1200</text>
<text x="1080.72" y="1120.02" font-size="10.4" fill="#2f2826" font-family="'Liberation Sans', sans-serif" text-anchor="middle" textLength="22.6" lengthAdjust="spacingAndGlyphs">1400</text>
<text x="1125.78" y="1120.02" font-size="10.4" fill="#2f2826" font-family="'Liberation Sans', sans-serif" text-anchor="middle" textLength="22.6" lengthAdjust="spacingAndGlyphs">1600</text>
<text x="1170.84" y="1120.02" font-size="10.4" fill="#2f2826" font-family="'Liberation Sans', sans-serif" text-anchor="middle" textLength="22.6" lengthAdjust="spacingAndGlyphs">1800</text>
<text x="952.5" y="1140.58" font-size="15.6" fill="#2f2826" font-family="'Liberation Sans', sans-serif" text-anchor="middle" textLength="190" lengthAdjust="spacingAndGlyphs" class="b">Number of cycles (cycles)</text>
<text transform="translate(736.5 1012.8) rotate(-90)" class="b" font-size="13.2" fill="#2f2826" font-family="'Liberation Sans', sans-serif" textLength="51" lengthAdjust="spacingAndGlyphs">Capacity</text>
<text transform="translate(737.4 951.8) rotate(-90)" class="b" font-size="17.5" fill="#2f2826" font-family="'Liberation Sans', sans-serif" textLength="28.8" lengthAdjust="spacingAndGlyphs">(%)</text>
</g>
<g id="c7">
<line x1="267.86" y1="1205" x2="267.86" y2="1433.96" stroke="#241c1a" stroke-width="1.8" />
<line x1="346.52" y1="1205" x2="346.52" y2="1433.96" stroke="#241c1a" stroke-width="1.8" />
<line x1="425.18" y1="1205" x2="425.18" y2="1433.96" stroke="#241c1a" stroke-width="1.8" />
<line x1="503.84" y1="1205" x2="503.84" y2="1433.96" stroke="#241c1a" stroke-width="1.8" />
<line x1="189.2" y1="1233.62" x2="582.5" y2="1233.62" stroke="#241c1a" stroke-width="1.8" />
<line x1="189.2" y1="1262.24" x2="582.5" y2="1262.24" stroke="#241c1a" stroke-width="1.8" />
<line x1="189.2" y1="1290.86" x2="582.5" y2="1290.86" stroke="#241c1a" stroke-width="1.8" />
<line x1="189.2" y1="1319.48" x2="582.5" y2="1319.48" stroke="#241c1a" stroke-width="1.8" />
<line x1="189.2" y1="1348.1" x2="582.5" y2="1348.1" stroke="#241c1a" stroke-width="1.8" />
<line x1="189.2" y1="1376.72" x2="582.5" y2="1376.72" stroke="#241c1a" stroke-width="1.8" />
<line x1="189.2" y1="1405.34" x2="582.5" y2="1405.34" stroke="#241c1a" stroke-width="1.8" />
<rect x="189.2" y="1205" width="393.3" height="228.96" fill="none" stroke="#241c1a" stroke-width="1.9"/>
<rect x="348.3" y="1267" width="75.8" height="15" fill="#fff"/>
<text x="348" y="1278.39" font-size="10.6" fill="#2f2826" font-family="'Liberation Sans', 'WenQuanYi Zen Hei', 'Noto Sans CJK SC', sans-serif" textLength="76.4" lengthAdjust="spacingAndGlyphs">(25℃/77℉)</text>
<path d="M189.2 1332.7 L582.5 1260.7 L582.5 1268.6 L189.2 1341.6 Z" fill="#fff"/>
<line x1="189.2" y1="1332.7" x2="582.5" y2="1260.7" stroke="#241c1a" stroke-width="1.8" />
<line x1="189.2" y1="1341.6" x2="582.5" y2="1268.6" stroke="#241c1a" stroke-width="1.8" />
<line x1="189.2" y1="1331" x2="189.2" y2="1343" stroke="#241c1a" stroke-width="1.9" />
<line x1="582.5" y1="1259.5" x2="582.5" y2="1270" stroke="#241c1a" stroke-width="1.9" />
<text x="186.2" y="1238.29" font-size="10.8" fill="#2f2826" font-family="'Liberation Sans', sans-serif" text-anchor="end" textLength="22.7" lengthAdjust="spacingAndGlyphs">13.5</text>
<text x="186.2" y="1266.91" font-size="10.8" fill="#2f2826" font-family="'Liberation Sans', sans-serif" text-anchor="end" textLength="22.7" lengthAdjust="spacingAndGlyphs">13.0</text>
<text x="186.2" y="1295.53" font-size="10.8" fill="#2f2826" font-family="'Liberation Sans', sans-serif" text-anchor="end" textLength="22.7" lengthAdjust="spacingAndGlyphs">12.5</text>
<text x="186.2" y="1324.15" font-size="10.8" fill="#2f2826" font-family="'Liberation Sans', sans-serif" text-anchor="end" textLength="22.7" lengthAdjust="spacingAndGlyphs">12.0</text>
<text x="186.2" y="1352.77" font-size="10.8" fill="#2f2826" font-family="'Liberation Sans', sans-serif" text-anchor="end" textLength="22.7" lengthAdjust="spacingAndGlyphs">11.5</text>
<text x="186.2" y="1381.39" font-size="10.8" fill="#2f2826" font-family="'Liberation Sans', sans-serif" text-anchor="end" textLength="22.7" lengthAdjust="spacingAndGlyphs">11.0</text>
<text x="188.2" y="1447.87" font-size="10.8" fill="#2f2826" font-family="'Liberation Sans', sans-serif" text-anchor="middle" textLength="6.4" lengthAdjust="spacingAndGlyphs">0</text>
<text x="270.4" y="1447.87" font-size="10.8" fill="#2f2826" font-family="'Liberation Sans', sans-serif" text-anchor="middle" textLength="13" lengthAdjust="spacingAndGlyphs">20</text>
<text x="349.4" y="1447.87" font-size="10.8" fill="#2f2826" font-family="'Liberation Sans', sans-serif" text-anchor="middle" textLength="13" lengthAdjust="spacingAndGlyphs">40</text>
<text x="428.8" y="1447.87" font-size="10.8" fill="#2f2826" font-family="'Liberation Sans', sans-serif" text-anchor="middle" textLength="13" lengthAdjust="spacingAndGlyphs">60</text>
<text x="506" y="1447.87" font-size="10.8" fill="#2f2826" font-family="'Liberation Sans', sans-serif" text-anchor="middle" textLength="13" lengthAdjust="spacingAndGlyphs">80</text>
<text x="584.1" y="1447.87" font-size="10.8" fill="#2f2826" font-family="'Liberation Sans', sans-serif" text-anchor="middle" textLength="19" lengthAdjust="spacingAndGlyphs">100</text>
<text x="415.8" y="1475.15" font-size="19.4" fill="#2f2826" font-family="'Liberation Sans', sans-serif" text-anchor="middle" textLength="210" lengthAdjust="spacingAndGlyphs" class="b">Residual Capacity (%)</text>
<text transform="translate(153.8 1421.8) rotate(-90)" class="b" font-size="18.2" fill="#2f2826" font-family="'Liberation Sans', sans-serif" textLength="193.4" lengthAdjust="spacingAndGlyphs">Open Circuit Voltage (V)</text>
</g>
<g id="c8">
<line x1="831" y1="1204.5" x2="831" y2="1438.02" stroke="#241c1a" stroke-width="1.85" />
<line x1="888" y1="1204.5" x2="888" y2="1438.02" stroke="#241c1a" stroke-width="1.85" />
<line x1="945" y1="1204.5" x2="945" y2="1438.02" stroke="#241c1a" stroke-width="1.85" />
<line x1="1002" y1="1204.5" x2="1002" y2="1438.02" stroke="#241c1a" stroke-width="1.85" />
<line x1="1059" y1="1204.5" x2="1059" y2="1438.02" stroke="#241c1a" stroke-width="1.85" />
<line x1="1116" y1="1204.5" x2="1116" y2="1438.02" stroke="#241c1a" stroke-width="1.85" />
<line x1="774" y1="1243.42" x2="1173" y2="1243.42" stroke="#241c1a" stroke-width="1.85" />
<line x1="774" y1="1282.34" x2="1173" y2="1282.34" stroke="#241c1a" stroke-width="1.85" />
<line x1="774" y1="1321.26" x2="1173" y2="1321.26" stroke="#241c1a" stroke-width="1.85" />
<line x1="774" y1="1360.18" x2="1173" y2="1360.18" stroke="#241c1a" stroke-width="1.85" />
<line x1="774" y1="1399.1" x2="1173" y2="1399.1" stroke="#241c1a" stroke-width="1.85" />
<rect x="774" y="1204.5" width="399" height="233.52" fill="none" stroke="#241c1a" stroke-width="2.1"/>
<path d="M774 1244.5 L776.44 1245.15 L778.88 1245.8 L781.32 1246.45 L783.76 1247.1 L786.2 1247.76 L788.64 1248.41 L791.08 1249.07 L793.52 1249.73 L795.95 1250.39 L798.39 1251.05 L800.83 1251.72 L803.26 1252.38 L805.7 1253.05 L808.14 1253.72 L810.57 1254.39 L813.01 1255.06 L815.44 1255.73 L817.88 1256.4 L820.31 1257.07 L822.74 1257.75 L825.18 1258.43 L827.61 1259.1 L830.04 1259.78 L832.47 1260.46 L834.91 1261.14 L837.34 1261.83 L839.77 1262.51 L842.2 1263.19 L844.63 1263.88 L847.06 1264.56 L849.49 1265.25 L851.92 1265.94 L854.35 1266.63 L856.78 1267.32 L859.21 1268.01 L861.64 1268.7 L864.07 1269.39 L866.5 1270.08 L868.93 1270.77 L871.35 1271.47 L873.78 1272.16 L876.21 1272.86 L878.64 1273.55 L881.07 1274.25 L883.49 1274.95 L885.92 1275.64 L888.35 1276.34 L890.78 1277.04 L893.2 1277.74 L895.63 1278.44 L898.06 1279.14 L900.48 1279.84 L902.91 1280.54 L905.34 1281.24 L907.76 1281.94 L910.19 1282.64 L912.62 1283.34 L915.04 1284.04 L917.47 1284.74 L919.89 1285.44 L922.32 1286.14 L924.75 1286.85 L927.17 1287.55 L929.6 1288.25 L932.02 1288.95 L934.45 1289.65 L936.88 1290.35 L939.3 1291.06 L941.73 1291.76 L944.16 1292.46 L946.58 1293.16 L949.01 1293.86 L951.43 1294.56 L953.86 1295.26 L956.29 1295.96 L958.71 1296.66 L961.14 1297.36 L963.57 1298.06 L965.99 1298.76 L968.42 1299.46 L970.85 1300.16 L973.27 1300.86 L975.7 1301.56 L978.13 1302.25 L980.56 1302.95 L982.98 1303.65 L985.41 1304.34 L987.84 1305.04 L990.27 1305.73 L992.7 1306.42 L995.13 1307.12 L997.55 1307.81 L999.98 1308.5 L1002.41 1309.19 L1004.84 1309.88 L1007.27 1310.57 L1009.7 1311.26 L1012.13 1311.94 L1014.56 1312.63 L1016.99 1313.32 L1019.42 1314 L1021.85 1314.68 L1024.29 1315.37 L1026.72 1316.05 L1029.15 1316.73 L1031.58 1317.41 L1034.01 1318.09 L1036.45 1318.76 L1038.88 1319.44 L1041.31 1320.11 L1043.75 1320.79 L1046.18 1321.46 L1048.62 1322.13 L1051.05 1322.8 L1053.49 1323.47 L1055.92 1324.14 L1058.36 1324.8 L1060.79 1325.47 L1063.23 1326.13 L1065.67 1326.79 L1068.11 1327.45 L1070.54 1328.11 L1072.98 1328.77 L1075.42 1329.42 L1077.86 1330.08 L1080.3 1330.73 L1082.74 1331.38 L1085.18 1332.03 L1087.62 1332.68 L1090.06 1333.32 L1092.51 1333.97 L1094.95 1334.61 L1097.39 1335.25 L1099.84 1335.89 L1102.28 1336.52 L1104.72 1337.16 L1107.17 1337.79 L1109.61 1338.42 L1112.06 1339.05 L1114.51 1339.68 L1116.95 1340.31 L1119.4 1340.93 L1121.85 1341.55 L1124.3 1342.17 L1126.75 1342.79 L1129.2 1343.4 L1129.2 1364.5 L1126.74 1363.93 L1124.28 1363.35 L1121.83 1362.77 L1119.37 1362.18 L1116.91 1361.6 L1114.46 1361.01 L1112 1360.42 L1109.55 1359.82 L1107.1 1359.22 L1104.65 1358.62 L1102.2 1358.02 L1099.75 1357.41 L1097.3 1356.8 L1094.85 1356.19 L1092.4 1355.57 L1089.95 1354.96 L1087.51 1354.34 L1085.06 1353.72 L1082.62 1353.09 L1080.17 1352.46 L1077.73 1351.83 L1075.28 1351.2 L1072.84 1350.57 L1070.4 1349.93 L1067.96 1349.29 L1065.52 1348.65 L1063.08 1348.01 L1060.64 1347.36 L1058.2 1346.71 L1055.76 1346.07 L1053.32 1345.41 L1050.89 1344.76 L1048.45 1344.1 L1046.01 1343.45 L1043.58 1342.79 L1041.14 1342.13 L1038.71 1341.46 L1036.27 1340.8 L1033.84 1340.13 L1031.41 1339.46 L1028.97 1338.79 L1026.54 1338.12 L1024.11 1337.45 L1021.68 1336.77 L1019.25 1336.1 L1016.82 1335.42 L1014.39 1334.74 L1011.96 1334.06 L1009.53 1333.38 L1007.1 1332.69 L1004.67 1332.01 L1002.24 1331.32 L999.81 1330.64 L997.38 1329.95 L994.96 1329.26 L992.53 1328.57 L990.1 1327.88 L987.67 1327.18 L985.25 1326.49 L982.82 1325.8 L980.4 1325.1 L977.97 1324.4 L975.55 1323.71 L973.12 1323.01 L970.7 1322.31 L968.27 1321.61 L965.85 1320.91 L963.42 1320.21 L961 1319.51 L958.57 1318.81 L956.15 1318.1 L953.72 1317.4 L951.3 1316.7 L948.88 1315.99 L946.45 1315.29 L944.03 1314.58 L941.61 1313.88 L939.18 1313.17 L936.76 1312.47 L934.34 1311.76 L931.91 1311.06 L929.49 1310.35 L927.07 1309.65 L924.65 1308.94 L922.22 1308.23 L919.8 1307.53 L917.38 1306.82 L914.95 1306.11 L912.53 1305.41 L910.11 1304.7 L907.68 1304 L905.26 1303.29 L902.84 1302.59 L900.41 1301.88 L897.99 1301.18 L895.57 1300.47 L893.14 1299.77 L890.72 1299.07 L888.29 1298.36 L885.87 1297.66 L883.44 1296.96 L881.02 1296.26 L878.59 1295.56 L876.17 1294.86 L873.74 1294.16 L871.32 1293.46 L868.89 1292.77 L866.47 1292.07 L864.04 1291.37 L861.61 1290.68 L859.19 1289.99 L856.76 1289.29 L854.33 1288.6 L851.91 1287.91 L849.48 1287.22 L847.05 1286.53 L844.62 1285.85 L842.19 1285.16 L839.76 1284.48 L837.33 1283.79 L834.9 1283.11 L832.47 1282.43 L830.04 1281.75 L827.61 1281.07 L825.18 1280.4 L822.75 1279.72 L820.31 1279.05 L817.88 1278.38 L815.45 1277.71 L813.01 1277.04 L810.58 1276.37 L808.14 1275.71 L805.71 1275.04 L803.27 1274.38 L800.84 1273.72 L798.4 1273.06 L795.96 1272.41 L793.52 1271.76 L791.09 1271.1 L788.65 1270.45 L786.21 1269.81 L783.77 1269.16 L781.33 1268.52 L778.88 1267.88 L776.44 1267.24 L774 1266.6 Z" fill="#fff" stroke="none"/>
<path d="M774 1244.5 L776.44 1245.15 L778.88 1245.8 L781.32 1246.45 L783.76 1247.1 L786.2 1247.76 L788.64 1248.41 L791.08 1249.07 L793.52 1249.73 L795.95 1250.39 L798.39 1251.05 L800.83 1251.72 L803.26 1252.38 L805.7 1253.05 L808.14 1253.72 L810.57 1254.39 L813.01 1255.06 L815.44 1255.73 L817.88 1256.4 L820.31 1257.07 L822.74 1257.75 L825.18 1258.43 L827.61 1259.1 L830.04 1259.78 L832.47 1260.46 L834.91 1261.14 L837.34 1261.83 L839.77 1262.51 L842.2 1263.19 L844.63 1263.88 L847.06 1264.56 L849.49 1265.25 L851.92 1265.94 L854.35 1266.63 L856.78 1267.32 L859.21 1268.01 L861.64 1268.7 L864.07 1269.39 L866.5 1270.08 L868.93 1270.77 L871.35 1271.47 L873.78 1272.16 L876.21 1272.86 L878.64 1273.55 L881.07 1274.25 L883.49 1274.95 L885.92 1275.64 L888.35 1276.34 L890.78 1277.04 L893.2 1277.74 L895.63 1278.44 L898.06 1279.14 L900.48 1279.84 L902.91 1280.54 L905.34 1281.24 L907.76 1281.94 L910.19 1282.64 L912.62 1283.34 L915.04 1284.04 L917.47 1284.74 L919.89 1285.44 L922.32 1286.14 L924.75 1286.85 L927.17 1287.55 L929.6 1288.25 L932.02 1288.95 L934.45 1289.65 L936.88 1290.35 L939.3 1291.06 L941.73 1291.76 L944.16 1292.46 L946.58 1293.16 L949.01 1293.86 L951.43 1294.56 L953.86 1295.26 L956.29 1295.96 L958.71 1296.66 L961.14 1297.36 L963.57 1298.06 L965.99 1298.76 L968.42 1299.46 L970.85 1300.16 L973.27 1300.86 L975.7 1301.56 L978.13 1302.25 L980.56 1302.95 L982.98 1303.65 L985.41 1304.34 L987.84 1305.04 L990.27 1305.73 L992.7 1306.42 L995.13 1307.12 L997.55 1307.81 L999.98 1308.5 L1002.41 1309.19 L1004.84 1309.88 L1007.27 1310.57 L1009.7 1311.26 L1012.13 1311.94 L1014.56 1312.63 L1016.99 1313.32 L1019.42 1314 L1021.85 1314.68 L1024.29 1315.37 L1026.72 1316.05 L1029.15 1316.73 L1031.58 1317.41 L1034.01 1318.09 L1036.45 1318.76 L1038.88 1319.44 L1041.31 1320.11 L1043.75 1320.79 L1046.18 1321.46 L1048.62 1322.13 L1051.05 1322.8 L1053.49 1323.47 L1055.92 1324.14 L1058.36 1324.8 L1060.79 1325.47 L1063.23 1326.13 L1065.67 1326.79 L1068.11 1327.45 L1070.54 1328.11 L1072.98 1328.77 L1075.42 1329.42 L1077.86 1330.08 L1080.3 1330.73 L1082.74 1331.38 L1085.18 1332.03 L1087.62 1332.68 L1090.06 1333.32 L1092.51 1333.97 L1094.95 1334.61 L1097.39 1335.25 L1099.84 1335.89 L1102.28 1336.52 L1104.72 1337.16 L1107.17 1337.79 L1109.61 1338.42 L1112.06 1339.05 L1114.51 1339.68 L1116.95 1340.31 L1119.4 1340.93 L1121.85 1341.55 L1124.3 1342.17 L1126.75 1342.79 L1129.2 1343.4" fill="none" stroke="#241c1a" stroke-width="1.8" stroke-linecap="round" stroke-linejoin="round"/>
<path d="M774 1266.6 L776.44 1267.24 L778.88 1267.88 L781.33 1268.52 L783.77 1269.16 L786.21 1269.81 L788.65 1270.45 L791.09 1271.1 L793.52 1271.76 L795.96 1272.41 L798.4 1273.06 L800.84 1273.72 L803.27 1274.38 L805.71 1275.04 L808.14 1275.71 L810.58 1276.37 L813.01 1277.04 L815.45 1277.71 L817.88 1278.38 L820.31 1279.05 L822.75 1279.72 L825.18 1280.4 L827.61 1281.07 L830.04 1281.75 L832.47 1282.43 L834.9 1283.11 L837.33 1283.79 L839.76 1284.48 L842.19 1285.16 L844.62 1285.85 L847.05 1286.53 L849.48 1287.22 L851.91 1287.91 L854.33 1288.6 L856.76 1289.29 L859.19 1289.99 L861.61 1290.68 L864.04 1291.37 L866.47 1292.07 L868.89 1292.77 L871.32 1293.46 L873.74 1294.16 L876.17 1294.86 L878.59 1295.56 L881.02 1296.26 L883.44 1296.96 L885.87 1297.66 L888.29 1298.36 L890.72 1299.07 L893.14 1299.77 L895.57 1300.47 L897.99 1301.18 L900.41 1301.88 L902.84 1302.59 L905.26 1303.29 L907.68 1304 L910.11 1304.7 L912.53 1305.41 L914.95 1306.11 L917.38 1306.82 L919.8 1307.53 L922.22 1308.23 L924.65 1308.94 L927.07 1309.65 L929.49 1310.35 L931.91 1311.06 L934.34 1311.76 L936.76 1312.47 L939.18 1313.17 L941.61 1313.88 L944.03 1314.58 L946.45 1315.29 L948.88 1315.99 L951.3 1316.7 L953.72 1317.4 L956.15 1318.1 L958.57 1318.81 L961 1319.51 L963.42 1320.21 L965.85 1320.91 L968.27 1321.61 L970.7 1322.31 L973.12 1323.01 L975.55 1323.71 L977.97 1324.4 L980.4 1325.1 L982.82 1325.8 L985.25 1326.49 L987.67 1327.18 L990.1 1327.88 L992.53 1328.57 L994.96 1329.26 L997.38 1329.95 L999.81 1330.64 L1002.24 1331.32 L1004.67 1332.01 L1007.1 1332.69 L1009.53 1333.38 L1011.96 1334.06 L1014.39 1334.74 L1016.82 1335.42 L1019.25 1336.1 L1021.68 1336.77 L1024.11 1337.45 L1026.54 1338.12 L1028.97 1338.79 L1031.41 1339.46 L1033.84 1340.13 L1036.27 1340.8 L1038.71 1341.46 L1041.14 1342.13 L1043.58 1342.79 L1046.01 1343.45 L1048.45 1344.1 L1050.89 1344.76 L1053.32 1345.41 L1055.76 1346.07 L1058.2 1346.71 L1060.64 1347.36 L1063.08 1348.01 L1065.52 1348.65 L1067.96 1349.29 L1070.4 1349.93 L1072.84 1350.57 L1075.28 1351.2 L1077.73 1351.83 L1080.17 1352.46 L1082.62 1353.09 L1085.06 1353.72 L1087.51 1354.34 L1089.95 1354.96 L1092.4 1355.57 L1094.85 1356.19 L1097.3 1356.8 L1099.75 1357.41 L1102.2 1358.02 L1104.65 1358.62 L1107.1 1359.22 L1109.55 1359.82 L1112 1360.42 L1114.46 1361.01 L1116.91 1361.6 L1119.37 1362.18 L1121.83 1362.77 L1124.28 1363.35 L1126.74 1363.93 L1129.2 1364.5" fill="none" stroke="#241c1a" stroke-width="1.8" stroke-linecap="round" stroke-linejoin="round"/>
<path d="M774 1302.4 L776.41 1303.16 L778.81 1303.91 L781.22 1304.68 L783.62 1305.44 L786.02 1306.21 L788.42 1306.98 L790.83 1307.75 L793.23 1308.53 L795.63 1309.31 L798.03 1310.08 L800.43 1310.87 L802.83 1311.65 L805.22 1312.43 L807.62 1313.22 L810.02 1314.01 L812.42 1314.8 L814.82 1315.59 L817.21 1316.38 L819.61 1317.17 L822.01 1317.96 L824.41 1318.75 L826.8 1319.54 L829.2 1320.34 L831.6 1321.13 L834 1321.92 L836.39 1322.71 L838.79 1323.5 L841.19 1324.29 L843.59 1325.08 L845.99 1325.87 L848.39 1326.65 L850.79 1327.44 L853.19 1328.22 L855.59 1329 L857.99 1329.78 L860.39 1330.56 L862.8 1331.33 L865.2 1332.1 L867.6 1332.87 L870.01 1333.64 L872.41 1334.4 L874.82 1335.16 L877.23 1335.92 L879.64 1336.68 L882.05 1337.43 L884.46 1338.17 L886.87 1338.92 L889.28 1339.65 L891.7 1340.39 L894.11 1341.12 L896.53 1341.85 L898.95 1342.57 L901.36 1343.29 L903.78 1344 L906.2 1344.71 L908.63 1345.42 L911.05 1346.12 L913.47 1346.82 L915.9 1347.51 L918.33 1348.2 L920.75 1348.88 L923.18 1349.56 L925.61 1350.24 L928.04 1350.91 L930.48 1351.58 L932.91 1352.24 L935.34 1352.9 L937.78 1353.56 L940.22 1354.21 L942.65 1354.85 L945.09 1355.5 L947.53 1356.13 L949.97 1356.77 L952.42 1357.4 L954.86 1358.02 L957.3 1358.64 L959.75 1359.26 L962.2 1359.87 L964.64 1360.48 L967.09 1361.08 L969.54 1361.68 L972 1362.27 L974.45 1362.86 L976.9 1363.45 L979.36 1364.03 L981.81 1364.61 L984.27 1365.18 L986.73 1365.75 L989.19 1366.31 L991.65 1366.87 L994.11 1367.42 L996.57 1367.97 L999.03 1368.52 L1001.5 1369.06 L1003.96 1369.6 L1006.43 1370.13 L1008.9 1370.66 L1011.37 1371.18 L1013.84 1371.7 L1016.31 1372.21 L1018.78 1372.73 L1021.25 1373.23 L1023.73 1373.74 L1026.2 1374.24 L1028.68 1374.73 L1031.15 1375.22 L1033.63 1375.71 L1036.11 1376.2 L1038.59 1376.68 L1041.07 1377.15 L1043.55 1377.63 L1046.03 1378.1 L1048.51 1378.57 L1050.99 1379.03 L1053.47 1379.49 L1055.96 1379.95 L1058.44 1380.41 L1060.92 1380.86 L1063.41 1381.31 L1065.89 1381.76 L1068.38 1382.21 L1070.87 1382.65 L1073.35 1383.09 L1075.84 1383.53 L1078.33 1383.96 L1080.81 1384.4 L1083.3 1384.83 L1085.79 1385.26 L1088.28 1385.68 L1090.76 1386.11 L1093.25 1386.53 L1095.74 1386.95 L1098.23 1387.37 L1100.72 1387.79 L1103.21 1388.21 L1105.69 1388.62 L1108.18 1389.04 L1110.67 1389.45 L1113.16 1389.86 L1115.65 1390.27 L1118.14 1390.68 L1120.62 1391.09 L1123.11 1391.49 L1125.6 1391.9 L1123.2 1403.4 L1120.66 1403.27 L1118.12 1403.12 L1115.58 1402.97 L1113.04 1402.81 L1110.51 1402.65 L1107.97 1402.47 L1105.44 1402.29 L1102.9 1402.09 L1100.37 1401.89 L1097.84 1401.69 L1095.31 1401.47 L1092.79 1401.25 L1090.26 1401.01 L1087.74 1400.77 L1085.21 1400.53 L1082.69 1400.27 L1080.17 1400.01 L1077.65 1399.74 L1075.13 1399.46 L1072.61 1399.18 L1070.09 1398.88 L1067.58 1398.59 L1065.06 1398.28 L1062.55 1397.97 L1060.04 1397.65 L1057.52 1397.32 L1055.01 1396.98 L1052.51 1396.64 L1050 1396.3 L1047.49 1395.94 L1044.98 1395.58 L1042.48 1395.21 L1039.98 1394.84 L1037.47 1394.46 L1034.97 1394.07 L1032.47 1393.68 L1029.97 1393.28 L1027.47 1392.88 L1024.98 1392.46 L1022.48 1392.05 L1019.98 1391.62 L1017.49 1391.19 L1014.99 1390.76 L1012.5 1390.32 L1010.01 1389.87 L1007.52 1389.42 L1005.03 1388.96 L1002.54 1388.5 L1000.05 1388.03 L997.57 1387.56 L995.08 1387.08 L992.59 1386.6 L990.11 1386.11 L987.63 1385.62 L985.14 1385.12 L982.66 1384.61 L980.18 1384.11 L977.7 1383.59 L975.22 1383.07 L972.74 1382.55 L970.26 1382.02 L967.79 1381.49 L965.31 1380.96 L962.84 1380.42 L960.36 1379.87 L957.89 1379.32 L955.42 1378.77 L952.94 1378.21 L950.47 1377.65 L948 1377.09 L945.53 1376.52 L943.06 1375.95 L940.59 1375.37 L938.13 1374.79 L935.66 1374.21 L933.19 1373.62 L930.73 1373.03 L928.26 1372.43 L925.8 1371.84 L923.34 1371.23 L920.87 1370.63 L918.41 1370.02 L915.95 1369.41 L913.49 1368.8 L911.03 1368.18 L908.57 1367.57 L906.11 1366.94 L903.65 1366.32 L901.19 1365.69 L898.73 1365.06 L896.28 1364.43 L893.82 1363.8 L891.37 1363.16 L888.91 1362.52 L886.46 1361.88 L884 1361.23 L881.55 1360.59 L879.1 1359.94 L876.64 1359.29 L874.19 1358.64 L871.74 1357.98 L869.29 1357.33 L866.84 1356.67 L864.39 1356.01 L861.94 1355.35 L859.49 1354.69 L857.04 1354.03 L854.59 1353.36 L852.15 1352.7 L849.7 1352.03 L847.25 1351.36 L844.81 1350.69 L842.36 1350.02 L839.91 1349.35 L837.47 1348.68 L835.02 1348 L832.58 1347.33 L830.14 1346.65 L827.69 1345.98 L825.25 1345.3 L822.81 1344.63 L820.36 1343.95 L817.92 1343.27 L815.48 1342.59 L813.04 1341.92 L810.59 1341.24 L808.15 1340.56 L805.71 1339.88 L803.27 1339.21 L800.83 1338.53 L798.39 1337.85 L795.95 1337.17 L793.51 1336.5 L791.07 1335.82 L788.63 1335.14 L786.19 1334.47 L783.75 1333.79 L781.31 1333.12 L778.88 1332.44 L776.44 1331.77 L774 1331.1 Z" fill="#fff" stroke="none"/>
<path d="M774 1302.4 L776.41 1303.16 L778.81 1303.91 L781.22 1304.68 L783.62 1305.44 L786.02 1306.21 L788.42 1306.98 L790.83 1307.75 L793.23 1308.53 L795.63 1309.31 L798.03 1310.08 L800.43 1310.87 L802.83 1311.65 L805.22 1312.43 L807.62 1313.22 L810.02 1314.01 L812.42 1314.8 L814.82 1315.59 L817.21 1316.38 L819.61 1317.17 L822.01 1317.96 L824.41 1318.75 L826.8 1319.54 L829.2 1320.34 L831.6 1321.13 L834 1321.92 L836.39 1322.71 L838.79 1323.5 L841.19 1324.29 L843.59 1325.08 L845.99 1325.87 L848.39 1326.65 L850.79 1327.44 L853.19 1328.22 L855.59 1329 L857.99 1329.78 L860.39 1330.56 L862.8 1331.33 L865.2 1332.1 L867.6 1332.87 L870.01 1333.64 L872.41 1334.4 L874.82 1335.16 L877.23 1335.92 L879.64 1336.68 L882.05 1337.43 L884.46 1338.17 L886.87 1338.92 L889.28 1339.65 L891.7 1340.39 L894.11 1341.12 L896.53 1341.85 L898.95 1342.57 L901.36 1343.29 L903.78 1344 L906.2 1344.71 L908.63 1345.42 L911.05 1346.12 L913.47 1346.82 L915.9 1347.51 L918.33 1348.2 L920.75 1348.88 L923.18 1349.56 L925.61 1350.24 L928.04 1350.91 L930.48 1351.58 L932.91 1352.24 L935.34 1352.9 L937.78 1353.56 L940.22 1354.21 L942.65 1354.85 L945.09 1355.5 L947.53 1356.13 L949.97 1356.77 L952.42 1357.4 L954.86 1358.02 L957.3 1358.64 L959.75 1359.26 L962.2 1359.87 L964.64 1360.48 L967.09 1361.08 L969.54 1361.68 L972 1362.27 L974.45 1362.86 L976.9 1363.45 L979.36 1364.03 L981.81 1364.61 L984.27 1365.18 L986.73 1365.75 L989.19 1366.31 L991.65 1366.87 L994.11 1367.42 L996.57 1367.97 L999.03 1368.52 L1001.5 1369.06 L1003.96 1369.6 L1006.43 1370.13 L1008.9 1370.66 L1011.37 1371.18 L1013.84 1371.7 L1016.31 1372.21 L1018.78 1372.73 L1021.25 1373.23 L1023.73 1373.74 L1026.2 1374.24 L1028.68 1374.73 L1031.15 1375.22 L1033.63 1375.71 L1036.11 1376.2 L1038.59 1376.68 L1041.07 1377.15 L1043.55 1377.63 L1046.03 1378.1 L1048.51 1378.57 L1050.99 1379.03 L1053.47 1379.49 L1055.96 1379.95 L1058.44 1380.41 L1060.92 1380.86 L1063.41 1381.31 L1065.89 1381.76 L1068.38 1382.21 L1070.87 1382.65 L1073.35 1383.09 L1075.84 1383.53 L1078.33 1383.96 L1080.81 1384.4 L1083.3 1384.83 L1085.79 1385.26 L1088.28 1385.68 L1090.76 1386.11 L1093.25 1386.53 L1095.74 1386.95 L1098.23 1387.37 L1100.72 1387.79 L1103.21 1388.21 L1105.69 1388.62 L1108.18 1389.04 L1110.67 1389.45 L1113.16 1389.86 L1115.65 1390.27 L1118.14 1390.68 L1120.62 1391.09 L1123.11 1391.49 L1125.6 1391.9" fill="none" stroke="#241c1a" stroke-width="1.8" stroke-linecap="round" stroke-linejoin="round"/>
<path d="M774 1331.1 L776.44 1331.77 L778.88 1332.44 L781.31 1333.12 L783.75 1333.79 L786.19 1334.47 L788.63 1335.14 L791.07 1335.82 L793.51 1336.5 L795.95 1337.17 L798.39 1337.85 L800.83 1338.53 L803.27 1339.21 L805.71 1339.88 L808.15 1340.56 L810.59 1341.24 L813.04 1341.92 L815.48 1342.59 L817.92 1343.27 L820.36 1343.95 L822.81 1344.63 L825.25 1345.3 L827.69 1345.98 L830.14 1346.65 L832.58 1347.33 L835.02 1348 L837.47 1348.68 L839.91 1349.35 L842.36 1350.02 L844.81 1350.69 L847.25 1351.36 L849.7 1352.03 L852.15 1352.7 L854.59 1353.36 L857.04 1354.03 L859.49 1354.69 L861.94 1355.35 L864.39 1356.01 L866.84 1356.67 L869.29 1357.33 L871.74 1357.98 L874.19 1358.64 L876.64 1359.29 L879.1 1359.94 L881.55 1360.59 L884 1361.23 L886.46 1361.88 L888.91 1362.52 L891.37 1363.16 L893.82 1363.8 L896.28 1364.43 L898.73 1365.06 L901.19 1365.69 L903.65 1366.32 L906.11 1366.94 L908.57 1367.57 L911.03 1368.18 L913.49 1368.8 L915.95 1369.41 L918.41 1370.02 L920.87 1370.63 L923.34 1371.23 L925.8 1371.84 L928.26 1372.43 L930.73 1373.03 L933.19 1373.62 L935.66 1374.21 L938.13 1374.79 L940.59 1375.37 L943.06 1375.95 L945.53 1376.52 L948 1377.09 L950.47 1377.65 L952.94 1378.21 L955.42 1378.77 L957.89 1379.32 L960.36 1379.87 L962.84 1380.42 L965.31 1380.96 L967.79 1381.49 L970.26 1382.02 L972.74 1382.55 L975.22 1383.07 L977.7 1383.59 L980.18 1384.11 L982.66 1384.61 L985.14 1385.12 L987.63 1385.62 L990.11 1386.11 L992.59 1386.6 L995.08 1387.08 L997.57 1387.56 L1000.05 1388.03 L1002.54 1388.5 L1005.03 1388.96 L1007.52 1389.42 L1010.01 1389.87 L1012.5 1390.32 L1014.99 1390.76 L1017.49 1391.19 L1019.98 1391.62 L1022.48 1392.05 L1024.98 1392.46 L1027.47 1392.88 L1029.97 1393.28 L1032.47 1393.68 L1034.97 1394.07 L1037.47 1394.46 L1039.98 1394.84 L1042.48 1395.21 L1044.98 1395.58 L1047.49 1395.94 L1050 1396.3 L1052.51 1396.64 L1055.01 1396.98 L1057.52 1397.32 L1060.04 1397.65 L1062.55 1397.97 L1065.06 1398.28 L1067.58 1398.59 L1070.09 1398.88 L1072.61 1399.18 L1075.13 1399.46 L1077.65 1399.74 L1080.17 1400.01 L1082.69 1400.27 L1085.21 1400.53 L1087.74 1400.77 L1090.26 1401.01 L1092.79 1401.25 L1095.31 1401.47 L1097.84 1401.69 L1100.37 1401.89 L1102.9 1402.09 L1105.44 1402.29 L1107.97 1402.47 L1110.51 1402.65 L1113.04 1402.81 L1115.58 1402.97 L1118.12 1403.12 L1120.66 1403.27 L1123.2 1403.4" fill="none" stroke="#241c1a" stroke-width="1.8" stroke-linecap="round" stroke-linejoin="round"/>
<line x1="774" y1="1243" x2="774" y2="1268" stroke="#241c1a" stroke-width="1.9" />
<line x1="774" y1="1301" x2="774" y2="1332.5" stroke="#241c1a" stroke-width="1.9" />
<text transform="translate(975.1 1309.8) rotate(20.5)" class="b" x="0" y="4.4" text-anchor="middle" font-size="12.6" font-style="italic" fill="#2f2826" font-family="'Liberation Sans', sans-serif" textLength="69" lengthAdjust="spacingAndGlyphs">Cycle Use</text>
<text transform="translate(891.7 1350.3) rotate(19)" class="b" x="0" y="4.4" text-anchor="middle" font-size="12.6" font-style="italic" fill="#2f2826" font-family="'Liberation Sans', sans-serif" textLength="85" lengthAdjust="spacingAndGlyphs">Floating Use</text>
<text x="764.8" y="1248.98" font-size="11.4" fill="#2f2826" font-family="'Liberation Sans', sans-serif" text-anchor="end" textLength="28.9" lengthAdjust="spacingAndGlyphs">15.6</text>
<text x="764.8" y="1285.58" font-size="11.4" fill="#2f2826" font-family="'Liberation Sans', sans-serif" text-anchor="end" textLength="28.9" lengthAdjust="spacingAndGlyphs">15.0</text>
<text x="764.8" y="1325.08" font-size="11.4" fill="#2f2826" font-family="'Liberation Sans', sans-serif" text-anchor="end" textLength="28.9" lengthAdjust="spacingAndGlyphs">14.4</text>
<text x="764.8" y="1364.68" font-size="11.4" fill="#2f2826" font-family="'Liberation Sans', sans-serif" text-anchor="end" textLength="28.9" lengthAdjust="spacingAndGlyphs">13.8</text>
<text x="764.8" y="1404.58" font-size="11.4" fill="#2f2826" font-family="'Liberation Sans', sans-serif" text-anchor="end" textLength="28.9" lengthAdjust="spacingAndGlyphs">13.2</text>
<text x="779.1" y="1454.75" font-size="11.6" fill="#2f2826" font-family="'Liberation Sans', sans-serif" text-anchor="middle" textLength="24" lengthAdjust="spacingAndGlyphs">−10</text>
<text x="830.4" y="1454.75" font-size="11.6" fill="#2f2826" font-family="'Liberation Sans', sans-serif" text-anchor="middle" textLength="7.6" lengthAdjust="spacingAndGlyphs">0</text>
<text x="888" y="1454.75" font-size="11.6" fill="#2f2826" font-family="'Liberation Sans', sans-serif" text-anchor="middle" textLength="15" lengthAdjust="spacingAndGlyphs">10</text>
<text x="944.4" y="1454.75" font-size="11.6" fill="#2f2826" font-family="'Liberation Sans', sans-serif" text-anchor="middle" textLength="15" lengthAdjust="spacingAndGlyphs">20</text>
<text x="1001.5" y="1454.75" font-size="11.6" fill="#2f2826" font-family="'Liberation Sans', sans-serif" text-anchor="middle" textLength="15" lengthAdjust="spacingAndGlyphs">30</text>
<text x="1057.9" y="1454.75" font-size="11.6" fill="#2f2826" font-family="'Liberation Sans', sans-serif" text-anchor="middle" textLength="15" lengthAdjust="spacingAndGlyphs">40</text>
<text x="1115.3" y="1454.75" font-size="11.6" fill="#2f2826" font-family="'Liberation Sans', sans-serif" text-anchor="middle" textLength="15" lengthAdjust="spacingAndGlyphs">50</text>
<text x="1166.9" y="1454.75" font-size="11.6" fill="#2f2826" font-family="'Liberation Sans', sans-serif" text-anchor="middle" textLength="15" lengthAdjust="spacingAndGlyphs">60</text>
<text x="906" y="1475" font-size="15.4" fill="#2f2826" font-family="'Liberation Sans', sans-serif" textLength="100.8" lengthAdjust="spacingAndGlyphs" class="b">Temperature</text>
<text x="1014" y="1476.6" font-size="21" fill="#2f2826" font-family="'Liberation Sans', sans-serif" class="b">(</text>
<text x="1022.4" y="1474.8" font-size="14" fill="#2f2826" font-family="'Liberation Sans', 'WenQuanYi Zen Hei', 'Noto Sans CJK SC', sans-serif" textLength="19.2" lengthAdjust="spacingAndGlyphs" class="b">℃</text>
<text x="1042.6" y="1476.6" font-size="21" fill="#2f2826" font-family="'Liberation Sans', sans-serif" class="b">)</text>
<text transform="translate(716.2 1365) rotate(-90)" class="b" font-size="14.6" fill="#2f2826" font-family="'Liberation Sans', sans-serif" textLength="54.4" lengthAdjust="spacingAndGlyphs">Voltage</text>
<text transform="translate(717.6 1301) rotate(-90)" class="b" font-size="19" fill="#2f2826" font-family="'Liberation Sans', sans-serif">(</text>
<text transform="translate(716.2 1294) rotate(-90)" class="b" font-size="12" fill="#2f2826" font-family="'Liberation Sans', sans-serif" textLength="10">V</text>
<text transform="translate(717.6 1283.4) rotate(-90)" class="b" font-size="19" fill="#2f2826" font-family="'Liberation Sans', sans-serif">)</text>
</g>
<g id="sgs1">
<path d="M1334.85 981 A29.15 29.15 0 0 1 1393.15 984.3 L1393.15 998" fill="none" stroke="#231815" stroke-width="9.7"/>
<circle cx="1363.3" cy="982.7" r="17.7" fill="#f6bf00"/>
<polygon points="1358,977 1358.2,984.7 1363.7,990.3 1380.4,974.6 1375.4,967.4 1362,981.3" fill="#fff"/>
<path id="arcT1" d="M1344.56 965.13 A27.3 27.3 0 0 1 1387.08 969.71" fill="none"/>
<text font-size="6.1" font-weight="bold" fill="#fff" font-family="'Liberation Sans', sans-serif"><textPath href="#arcT1" textLength="48.5" lengthAdjust="spacingAndGlyphs">SYSTEM CERTIFICATION</textPath></text>
<path id="arcB1" d="M1330.3 983.4 A32.2 32.2 0 0 0 1366.3 1013.2" fill="none"/>
<text font-size="6.6" font-weight="bold" fill="#231815" font-family="'Liberation Sans', sans-serif"><textPath href="#arcB1" textLength="51.5" lengthAdjust="spacingAndGlyphs">ISO 9001:2008</textPath></text>
<line x1="1367" y1="1014.8" x2="1400" y2="1014.8" stroke="#f2c832" stroke-width="1" />
<line x1="1395.4" y1="1003" x2="1395.4" y2="1018.4" stroke="#f2c832" stroke-width="1" />
<text x="1373" y="1014.2" font-size="14.6" font-weight="bold" fill="#231815" stroke="#231815" stroke-width="0.5" font-family="'Liberation Sans', sans-serif" textLength="21.7" lengthAdjust="spacingAndGlyphs">SGS</text>
</g>
<g id="sgs2">
<path d="M1334.85 1124 A29.15 29.15 0 0 1 1393.15 1127.3 L1393.15 1141" fill="none" stroke="#231815" stroke-width="9.7"/>
<circle cx="1363.3" cy="1125.7" r="17.7" fill="#f6bf00"/>
<polygon points="1358,1120 1358.2,1127.7 1363.7,1133.3 1380.4,1117.6 1375.4,1110.4 1362,1124.3" fill="#fff"/>
<path id="arcT2" d="M1344.56 1108.13 A27.3 27.3 0 0 1 1387.08 1112.71" fill="none"/>
<text font-size="6.1" font-weight="bold" fill="#fff" font-family="'Liberation Sans', sans-serif"><textPath href="#arcT2" textLength="48.5" lengthAdjust="spacingAndGlyphs">SYSTEM CERTIFICATION</textPath></text>
<path id="arcB2" d="M1330.3 1126.4 A32.2 32.2 0 0 0 1366.3 1156.2" fill="none"/>
<text font-size="6.6" font-weight="bold" fill="#231815" font-family="'Liberation Sans', sans-serif"><textPath href="#arcB2" textLength="51.5" lengthAdjust="spacingAndGlyphs">ISO14000:2004</textPath></text>
<line x1="1367" y1="1157.8" x2="1400" y2="1157.8" stroke="#f2c832" stroke-width="1" />
<line x1="1395.4" y1="1146" x2="1395.4" y2="1161.4" stroke="#f2c832" stroke-width="1" />
<text x="1373" y="1157.2" font-size="14.6" font-weight="bold" fill="#231815" stroke="#231815" stroke-width="0.5" font-family="'Liberation Sans', sans-serif" textLength="21.7" lengthAdjust="spacingAndGlyphs">SGS</text>
</g>
<g id="ce"><title>CE</title>
<clipPath id="ceC"><rect x="1325" y="1225" width="37.3" height="80"/></clipPath>
<clipPath id="ceE"><rect x="1362" y="1225" width="34.9" height="80"/></clipPath>
<circle cx="1365" cy="1264.7" r="27.35" fill="none" stroke="#231815" stroke-width="9.3" clip-path="url(#ceC)"/>
<circle cx="1399.7" cy="1264.7" r="27.35" fill="none" stroke="#231815" stroke-width="9.3" clip-path="url(#ceE)"/>
<rect x="1376.5" y="1260.3" width="14.6" height="6.4" fill="#231815"/>
</g>
</svg>
</body></html>
